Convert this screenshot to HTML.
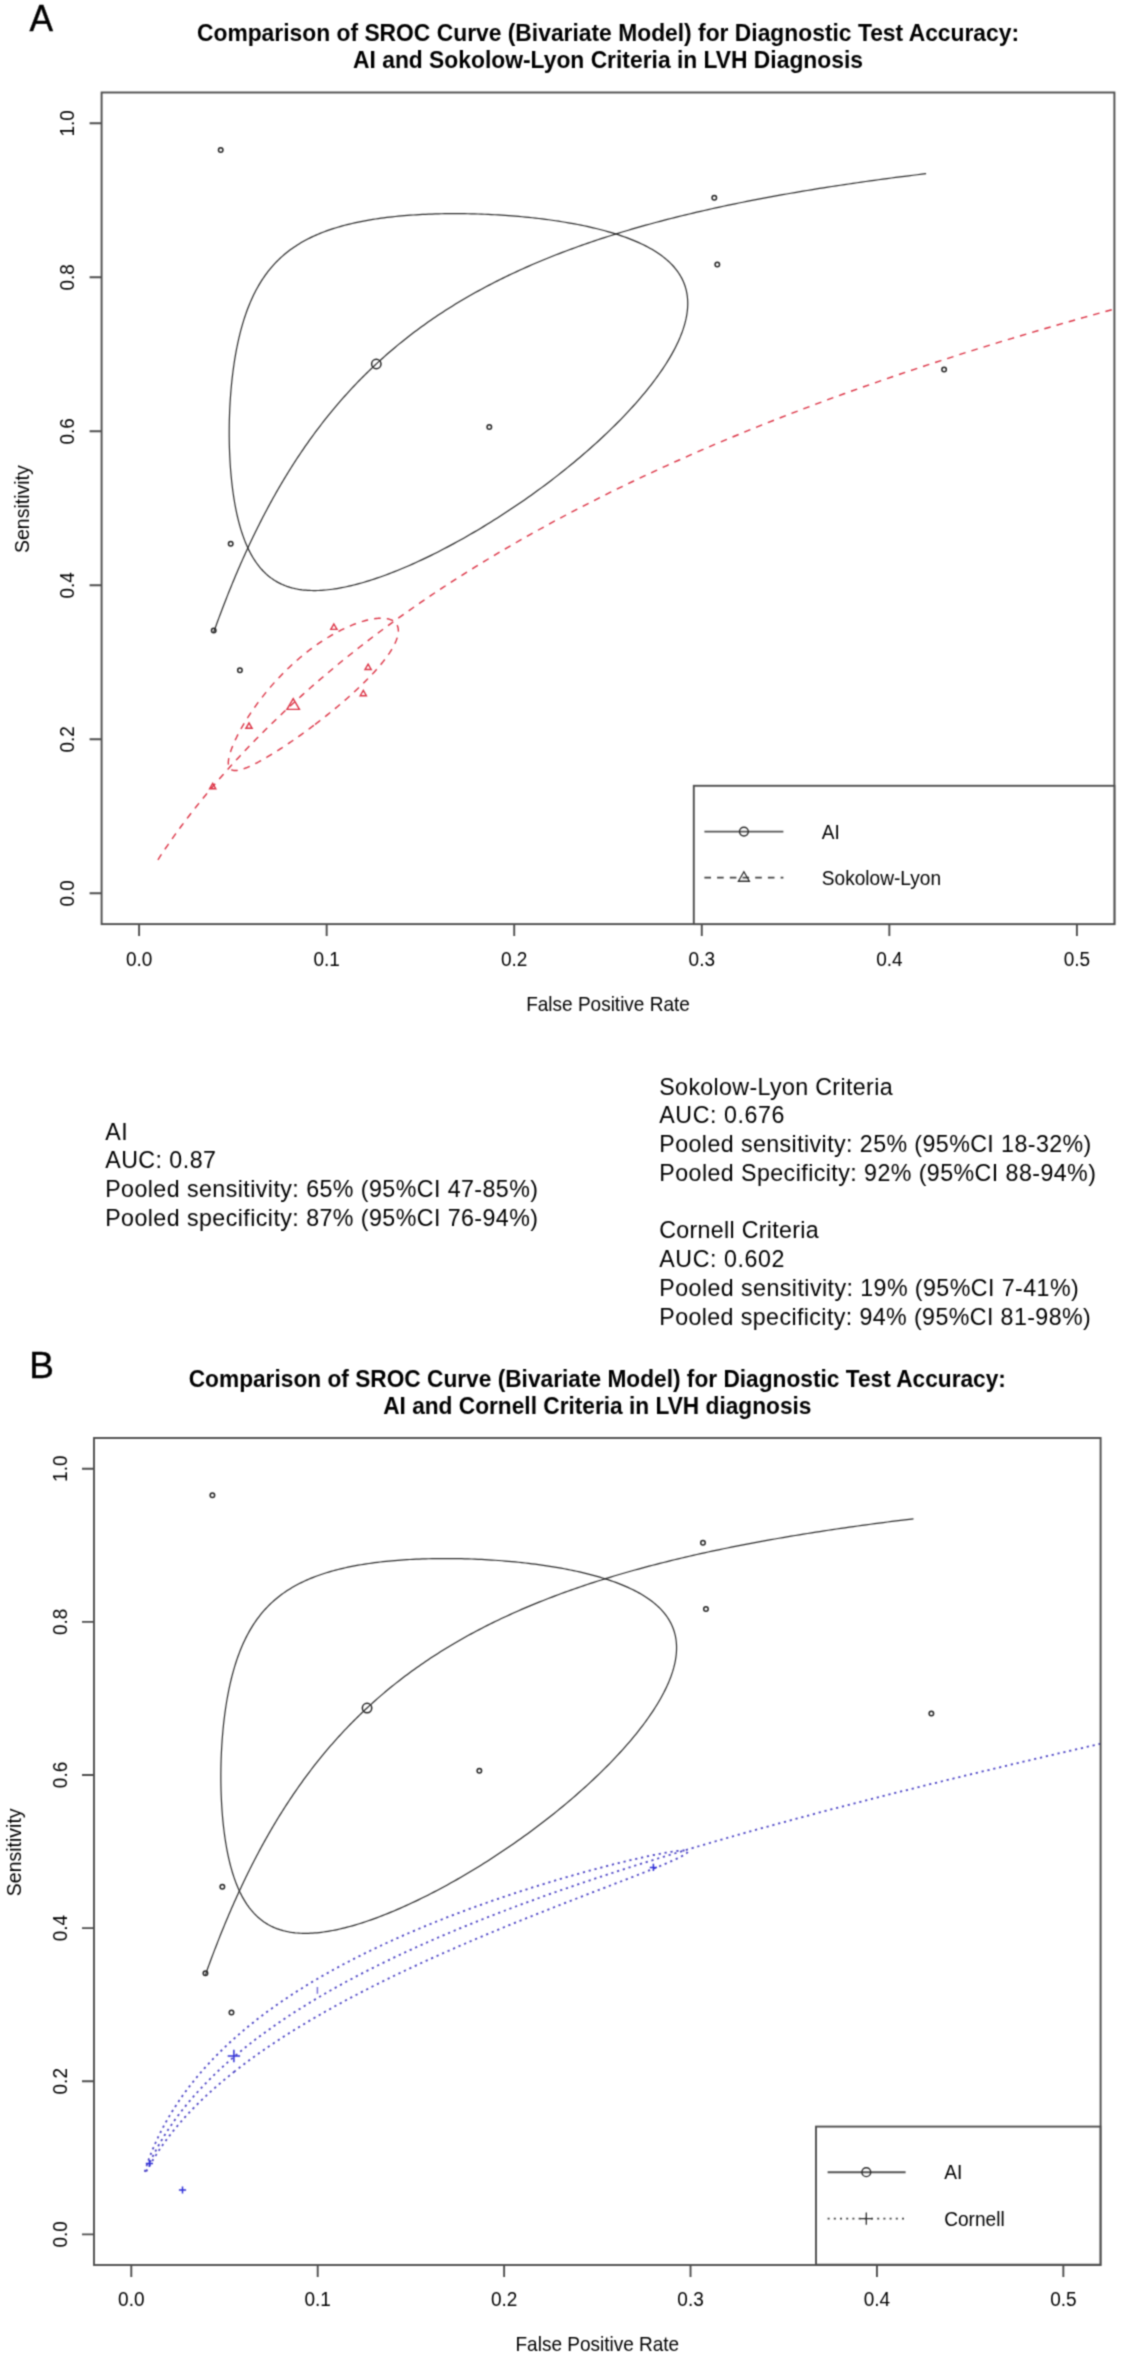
<!DOCTYPE html>
<html><head><meta charset="utf-8"><title>SROC comparison</title>
<style>html,body{margin:0;padding:0;background:#fff;}svg{display:block;}</style></head>
<body><svg width="1122" height="2360" viewBox="0 0 1122 2360" font-family="'Liberation Sans', Arial, Helvetica, sans-serif">
<defs><filter id="soft" color-interpolation-filters="sRGB" x="0" y="0" width="1122" height="2360" filterUnits="userSpaceOnUse"><feConvolveMatrix order="3" kernelMatrix="0.04 0.12 0.04 0.12 0.36 0.12 0.04 0.12 0.04" edgeMode="duplicate"/></filter></defs>
<rect width="1122" height="2360" fill="#fff"/>
<g filter="url(#soft)">
<rect width="1122" height="2360" fill="#fff"/>
<text transform="translate(29.5,30.7) scale(0.955,1)" font-size="37" fill="#000" stroke="#000" stroke-width="0.4">A</text>
<text transform="translate(608,41.0) scale(1,1.055)" text-anchor="middle" font-weight="bold" font-size="22.85" fill="#000">Comparison of SROC Curve (Bivariate Model) for Diagnostic Test Accuracy:</text>
<text transform="translate(608,68.2) scale(1,1.055)" text-anchor="middle" font-weight="bold" font-size="22.85" fill="#000">AI and Sokolow-Lyon Criteria in LVH Diagnosis</text>
<clipPath id="cA"><rect x="101.6" y="92.5" width="1012.8000000000001" height="831.6"/></clipPath>
<g clip-path="url(#cA)"><path d="M213.69,632.22 L214.38,630.29 L215.07,628.36 L215.78,626.43 L216.48,624.48 L217.19,622.53 L217.91,620.58 L218.64,618.61 L219.37,616.64 L220.11,614.67 L220.85,612.69 L221.6,610.7 L222.36,608.71 L223.13,606.71 L223.9,604.7 L224.67,602.69 L225.46,600.68 L226.25,598.66 L227.05,596.63 L227.85,594.6 L228.67,592.56 L229.49,590.52 L230.31,588.47 L231.14,586.42 L231.99,584.37 L232.83,582.31 L233.69,580.24 L234.55,578.17 L235.42,576.1 L236.3,574.02 L237.18,571.94 L238.08,569.86 L238.98,567.77 L239.89,565.67 L240.8,563.58 L241.73,561.48 L242.66,559.38 L243.6,557.27 L244.55,555.16 L245.5,553.05 L246.47,550.94 L247.44,548.82 L248.42,546.7 L249.41,544.58 L250.4,542.46 L251.41,540.33 L252.42,538.2 L253.45,536.07 L254.48,533.94 L255.52,531.81 L256.57,529.67 L257.62,527.54 L258.69,525.4 L259.77,523.26 L260.85,521.12 L261.94,518.98 L263.05,516.84 L264.16,514.7 L265.28,512.56 L266.41,510.42 L267.55,508.28 L268.7,506.14 L269.86,503.99 L271.02,501.85 L272.2,499.71 L273.39,497.57 L274.59,495.43 L275.79,493.29 L277.01,491.16 L278.24,489.02 L279.47,486.88 L280.72,484.75 L281.98,482.62 L283.25,480.48 L284.52,478.35 L285.81,476.23 L287.11,474.1 L288.42,471.98 L289.74,469.86 L291.07,467.74 L292.41,465.62 L293.76,463.51 L295.13,461.39 L296.5,459.29 L297.88,457.18 L299.28,455.08 L300.69,452.98 L302.1,450.88 L303.53,448.79 L304.97,446.7 L306.43,444.62 L307.89,442.54 L309.36,440.46 L310.85,438.38 L312.35,436.32 L313.86,434.25 L315.38,432.19 L316.91,430.13 L318.46,428.08 L320.02,426.04 L321.59,424 L323.17,421.96 L324.76,419.93 L326.37,417.9 L327.98,415.88 L329.62,413.87 L331.26,411.85 L332.91,409.85 L334.58,407.85 L336.26,405.86 L337.96,403.87 L339.66,401.89 L341.38,399.92 L343.12,397.95 L344.86,395.98 L346.62,394.03 L348.39,392.08 L350.18,390.13 L351.98,388.2 L353.79,386.27 L355.61,384.34 L357.45,382.43 L359.3,380.52 L361.17,378.62 L363.05,376.72 L364.94,374.83 L366.85,372.95 L368.77,371.08 L370.7,369.21 L372.65,367.36 L374.61,365.5 L376.59,363.66 L378.58,361.83 L380.59,360 L382.61,358.18 L384.64,356.37 L386.69,354.56 L388.75,352.76 L390.83,350.98 L392.92,349.2 L395.03,347.42 L397.15,345.66 L399.28,343.91 L401.43,342.16 L403.6,340.42 L405.78,338.69 L407.97,336.97 L410.18,335.25 L412.41,333.55 L414.65,331.85 L416.91,330.17 L419.18,328.49 L421.46,326.82 L423.77,325.16 L426.08,323.5 L428.41,321.86 L430.76,320.22 L433.13,318.6 L435.51,316.98 L437.9,315.37 L440.31,313.77 L442.74,312.18 L445.18,310.6 L447.64,309.03 L450.11,307.46 L452.6,305.91 L455.1,304.36 L457.62,302.83 L460.16,301.3 L462.71,299.78 L465.28,298.27 L467.87,296.77 L470.47,295.28 L473.09,293.8 L475.72,292.33 L478.37,290.87 L481.04,289.41 L483.72,287.97 L486.42,286.53 L489.13,285.11 L491.86,283.69 L494.61,282.28 L497.37,280.88 L500.15,279.49 L502.95,278.11 L505.76,276.74 L508.59,275.38 L511.44,274.02 L514.3,272.68 L517.18,271.34 L520.08,270.02 L522.99,268.7 L525.92,267.39 L528.86,266.1 L531.82,264.81 L534.8,263.53 L537.79,262.25 L540.8,260.99 L543.83,259.74 L546.88,258.49 L549.94,257.26 L553.01,256.03 L556.11,254.81 L559.22,253.6 L562.34,252.4 L565.49,251.21 L568.64,250.03 L571.82,248.86 L575.01,247.69 L578.22,246.54 L581.44,245.39 L584.69,244.25 L587.94,243.12 L591.22,242 L594.51,240.89 L597.81,239.78 L601.13,238.69 L604.47,237.6 L607.83,236.52 L611.2,235.45 L614.59,234.39 L617.99,233.34 L621.41,232.29 L624.84,231.25 L628.29,230.22 L631.76,229.2 L635.24,228.19 L638.74,227.19 L642.25,226.19 L645.78,225.2 L649.32,224.22 L652.88,223.25 L656.46,222.29 L660.05,221.33 L663.66,220.39 L667.28,219.45 L670.92,218.51 L674.57,217.59 L678.23,216.67 L681.92,215.76 L685.61,214.86 L689.32,213.97 L693.05,213.08 L696.79,212.2 L700.54,211.33 L704.31,210.47 L708.1,209.61 L711.9,208.76 L715.71,207.92 L719.53,207.09 L723.37,206.26 L727.23,205.44 L731.1,204.63 L734.98,203.82 L738.87,203.02 L742.78,202.23 L746.7,201.45 L750.64,200.67 L754.59,199.9 L758.55,199.13 L762.52,198.38 L766.51,197.63 L770.51,196.88 L774.52,196.14 L778.55,195.41 L782.58,194.69 L786.63,193.97 L790.69,193.26 L794.77,192.56 L798.85,191.86 L802.95,191.17 L807.05,190.48 L811.17,189.8 L815.3,189.13 L819.44,188.46 L823.6,187.8 L827.76,187.15 L831.93,186.5 L836.12,185.86 L840.31,185.22 L844.51,184.59 L848.73,183.97 L852.95,183.35 L857.19,182.73 L861.43,182.13 L865.68,181.53 L869.94,180.93 L874.21,180.34 L878.49,179.75 L882.78,179.17 L887.08,178.6 L891.38,178.03 L895.7,177.47 L900.02,176.91 L904.35,176.36 L908.68,175.81 L913.03,175.27 L917.38,174.73 L921.74,174.2 L926.1,173.68" fill="none" stroke="#2d2d2d" stroke-width="1.2"/><path d="M255.83,290.57 L256.82,288.73 L257.83,286.92 L258.86,285.13 L259.91,283.36 L260.98,281.62 L262.07,279.91 L263.19,278.22 L264.33,276.55 L265.49,274.91 L266.68,273.3 L267.89,271.71 L269.12,270.14 L270.38,268.6 L271.66,267.09 L272.96,265.6 L274.29,264.13 L275.65,262.69 L277.03,261.27 L278.43,259.88 L279.86,258.51 L281.31,257.17 L282.79,255.85 L284.3,254.55 L285.83,253.28 L287.39,252.03 L288.97,250.8 L290.58,249.6 L292.22,248.42 L293.89,247.26 L295.58,246.13 L297.3,245.02 L299.05,243.93 L300.82,242.86 L302.63,241.81 L304.46,240.79 L306.32,239.79 L308.2,238.81 L310.12,237.85 L312.07,236.91 L314.04,236 L316.04,235.1 L318.07,234.23 L320.13,233.37 L322.22,232.54 L324.34,231.73 L326.49,230.93 L328.66,230.16 L330.87,229.4 L333.11,228.67 L335.37,227.95 L337.66,227.26 L339.99,226.58 L342.34,225.92 L344.72,225.28 L347.13,224.66 L349.57,224.06 L352.04,223.47 L354.54,222.91 L357.06,222.36 L359.62,221.83 L362.2,221.31 L364.81,220.82 L367.45,220.34 L370.12,219.88 L372.82,219.44 L375.54,219.01 L378.29,218.6 L381.06,218.21 L383.87,217.83 L386.7,217.47 L389.55,217.13 L392.43,216.81 L395.34,216.5 L398.27,216.2 L401.22,215.93 L404.2,215.67 L407.21,215.42 L410.23,215.19 L413.28,214.98 L416.35,214.78 L419.44,214.6 L422.55,214.44 L425.69,214.29 L428.84,214.15 L432.01,214.04 L435.2,213.93 L438.41,213.85 L441.63,213.77 L444.87,213.72 L448.13,213.68 L451.4,213.65 L454.69,213.64 L457.99,213.65 L461.3,213.67 L464.62,213.71 L467.96,213.76 L471.3,213.83 L474.65,213.91 L478.02,214.01 L481.39,214.13 L484.76,214.26 L488.14,214.4 L491.53,214.57 L494.92,214.74 L498.31,214.94 L501.71,215.15 L505.1,215.37 L508.5,215.61 L511.89,215.87 L515.28,216.14 L518.67,216.43 L522.05,216.74 L525.43,217.06 L528.8,217.4 L532.16,217.76 L535.51,218.13 L538.86,218.52 L542.19,218.92 L545.51,219.34 L548.82,219.78 L552.11,220.24 L555.39,220.72 L558.65,221.21 L561.9,221.72 L565.12,222.24 L568.33,222.79 L571.51,223.35 L574.67,223.93 L577.81,224.53 L580.92,225.15 L584.01,225.78 L587.07,226.44 L590.11,227.11 L593.11,227.8 L596.09,228.51 L599.03,229.24 L601.95,229.99 L604.83,230.76 L607.67,231.55 L610.48,232.36 L613.25,233.19 L615.99,234.04 L618.69,234.91 L621.35,235.81 L623.97,236.72 L626.55,237.65 L629.08,238.6 L631.57,239.58 L634.02,240.58 L636.43,241.6 L638.79,242.64 L641.1,243.7 L643.36,244.78 L645.58,245.89 L647.74,247.02 L649.86,248.17 L651.93,249.35 L653.94,250.54 L655.9,251.77 L657.81,253.01 L659.67,254.28 L661.47,255.57 L663.21,256.89 L664.91,258.22 L666.54,259.59 L668.12,260.97 L669.64,262.39 L671.1,263.82 L672.5,265.28 L673.84,266.77 L675.13,268.28 L676.35,269.81 L677.52,271.37 L678.62,272.96 L679.66,274.57 L680.64,276.2 L681.56,277.86 L682.41,279.54 L683.21,281.25 L683.94,282.99 L684.6,284.75 L685.2,286.53 L685.74,288.34 L686.22,290.18 L686.63,292.04 L686.97,293.92 L687.26,295.83 L687.47,297.77 L687.62,299.73 L687.71,301.71 L687.74,303.72 L687.69,305.75 L687.59,307.81 L687.42,309.89 L687.18,311.99 L686.88,314.12 L686.52,316.27 L686.09,318.45 L685.6,320.64 L685.04,322.86 L684.42,325.1 L683.73,327.37 L682.99,329.65 L682.18,331.96 L681.3,334.29 L680.37,336.64 L679.37,339.01 L678.31,341.39 L677.19,343.8 L676.01,346.23 L674.77,348.67 L673.47,351.14 L672.11,353.62 L670.69,356.11 L669.21,358.63 L667.67,361.16 L666.08,363.7 L664.43,366.26 L662.72,368.84 L660.96,371.42 L659.15,374.02 L657.28,376.64 L655.35,379.26 L653.37,381.9 L651.34,384.54 L649.26,387.2 L647.13,389.86 L644.95,392.53 L642.72,395.21 L640.45,397.9 L638.12,400.59 L635.75,403.29 L633.33,405.99 L630.87,408.7 L628.37,411.41 L625.82,414.12 L623.23,416.84 L620.6,419.55 L617.93,422.26 L615.22,424.98 L612.47,427.69 L609.69,430.4 L606.87,433.11 L604.01,435.81 L601.12,438.51 L598.2,441.2 L595.25,443.89 L592.26,446.57 L589.25,449.24 L586.21,451.9 L583.14,454.55 L580.04,457.2 L576.92,459.83 L573.78,462.45 L570.61,465.06 L567.42,467.65 L564.21,470.24 L560.98,472.8 L557.73,475.35 L554.46,477.89 L551.18,480.41 L547.88,482.91 L544.57,485.4 L541.25,487.86 L537.91,490.31 L534.56,492.74 L531.21,495.14 L527.84,497.53 L524.47,499.89 L521.09,502.23 L517.7,504.55 L514.32,506.85 L510.92,509.12 L507.53,511.36 L504.14,513.59 L500.74,515.78 L497.35,517.96 L493.96,520.1 L490.57,522.22 L487.18,524.31 L483.8,526.37 L480.43,528.41 L477.06,530.41 L473.7,532.39 L470.35,534.34 L467.01,536.26 L463.68,538.15 L460.36,540.01 L457.05,541.84 L453.75,543.64 L450.47,545.4 L447.2,547.14 L443.95,548.84 L440.71,550.52 L437.49,552.16 L434.29,553.77 L431.11,555.34 L427.94,556.88 L424.79,558.39 L421.67,559.87 L418.56,561.31 L415.48,562.72 L412.41,564.1 L409.37,565.44 L406.35,566.75 L403.36,568.02 L400.38,569.26 L397.43,570.47 L394.51,571.64 L391.61,572.78 L388.74,573.88 L385.89,574.95 L383.07,575.98 L380.27,576.98 L377.5,577.94 L374.76,578.87 L372.05,579.76 L369.36,580.62 L366.7,581.44 L364.07,582.22 L361.47,582.98 L358.89,583.69 L356.34,584.37 L353.83,585.02 L351.34,585.63 L348.88,586.2 L346.44,586.74 L344.04,587.24 L341.67,587.71 L339.32,588.14 L337.01,588.54 L334.72,588.9 L332.47,589.22 L330.24,589.51 L328.04,589.77 L325.87,589.99 L323.74,590.17 L321.63,590.31 L319.54,590.43 L317.49,590.5 L315.47,590.54 L313.48,590.54 L311.51,590.51 L309.57,590.44 L307.67,590.34 L305.79,590.2 L303.93,590.03 L302.11,589.82 L300.32,589.57 L298.55,589.29 L296.81,588.97 L295.1,588.62 L293.41,588.23 L291.75,587.81 L290.12,587.35 L288.52,586.85 L286.94,586.32 L285.39,585.75 L283.87,585.15 L282.37,584.51 L280.9,583.84 L279.45,583.13 L278.03,582.39 L276.63,581.61 L275.26,580.79 L273.91,579.94 L272.59,579.06 L271.29,578.14 L270.02,577.18 L268.77,576.19 L267.54,575.17 L266.34,574.11 L265.16,573.01 L264.01,571.88 L262.87,570.72 L261.76,569.52 L260.67,568.29 L259.61,567.02 L258.56,565.72 L257.54,564.39 L256.54,563.02 L255.56,561.62 L254.6,560.18 L253.66,558.71 L252.74,557.21 L251.84,555.67 L250.97,554.1 L250.11,552.5 L249.27,550.87 L248.45,549.2 L247.66,547.51 L246.88,545.78 L246.12,544.02 L245.38,542.23 L244.65,540.4 L243.95,538.55 L243.27,536.67 L242.6,534.75 L241.95,532.81 L241.32,530.84 L240.7,528.84 L240.11,526.81 L239.53,524.75 L238.97,522.67 L238.42,520.55 L237.89,518.41 L237.38,516.25 L236.89,514.06 L236.41,511.84 L235.95,509.6 L235.5,507.33 L235.07,505.04 L234.66,502.73 L234.26,500.39 L233.88,498.03 L233.51,495.65 L233.16,493.25 L232.83,490.83 L232.51,488.39 L232.2,485.92 L231.91,483.44 L231.64,480.94 L231.38,478.43 L231.13,475.9 L230.91,473.35 L230.69,470.78 L230.49,468.2 L230.3,465.61 L230.13,463.01 L229.98,460.39 L229.84,457.76 L229.71,455.12 L229.6,452.47 L229.5,449.8 L229.41,447.14 L229.34,444.46 L229.29,441.77 L229.25,439.08 L229.22,436.38 L229.21,433.68 L229.21,430.98 L229.23,428.27 L229.26,425.56 L229.3,422.84 L229.36,420.13 L229.44,417.41 L229.52,414.7 L229.63,411.99 L229.74,409.28 L229.87,406.57 L230.02,403.87 L230.18,401.17 L230.36,398.47 L230.55,395.79 L230.75,393.1 L230.97,390.43 L231.2,387.76 L231.45,385.11 L231.71,382.46 L231.99,379.82 L232.29,377.19 L232.6,374.58 L232.92,371.98 L233.26,369.39 L233.62,366.81 L233.99,364.25 L234.37,361.7 L234.77,359.17 L235.19,356.65 L235.63,354.15 L236.08,351.66 L236.54,349.2 L237.03,346.75 L237.53,344.32 L238.04,341.91 L238.57,339.51 L239.12,337.14 L239.69,334.79 L240.27,332.46 L240.88,330.14 L241.49,327.85 L242.13,325.59 L242.79,323.34 L243.46,321.11 L244.15,318.91 L244.86,316.73 L245.59,314.58 L246.33,312.44 L247.1,310.33 L247.88,308.25 L248.68,306.19 L249.51,304.15 L250.35,302.13 L251.21,300.15 L252.1,298.18 L253,296.24 L253.92,294.33 L254.87,292.44 L255.83,290.57Z" fill="none" stroke="#2d2d2d" stroke-width="1.2"/><path d="M157.86,859.96 L158.44,859.06 L159.03,858.13 L159.65,857.18 L160.28,856.21 L160.94,855.22 L161.61,854.19 L162.3,853.15 L163.02,852.07 L163.75,850.97 L164.51,849.84 L165.3,848.68 L166.1,847.5 L166.93,846.28 L167.79,845.03 L168.67,843.76 L169.58,842.45 L170.51,841.11 L171.48,839.73 L172.47,838.33 L173.49,836.89 L174.54,835.41 L175.63,833.9 L176.75,832.35 L177.9,830.77 L179.08,829.15 L180.3,827.49 L181.56,825.79 L182.85,824.05 L184.19,822.28 L185.56,820.46 L186.97,818.6 L188.43,816.7 L189.93,814.75 L191.47,812.76 L193.06,810.73 L194.69,808.65 L196.37,806.53 L198.1,804.36 L199.89,802.14 L201.72,799.87 L203.61,797.56 L205.55,795.2 L207.55,792.79 L209.6,790.32 L211.72,787.81 L213.9,785.25 L216.13,782.63 L218.44,779.96 L220.81,777.24 L223.24,774.46 L225.75,771.63 L228.32,768.75 L230.97,765.81 L233.69,762.82 L236.49,759.77 L239.37,756.66 L242.33,753.5 L245.37,750.28 L248.49,747 L251.7,743.67 L255,740.28 L258.39,736.83 L261.87,733.33 L265.44,729.76 L269.11,726.14 L272.88,722.47 L276.75,718.73 L280.72,714.94 L284.8,711.09 L288.98,707.18 L293.27,703.22 L297.68,699.19 L302.2,695.12 L306.84,690.99 L311.59,686.8 L316.46,682.56 L321.46,678.26 L326.59,673.92 L331.84,669.51 L337.22,665.06 L342.73,660.56 L348.38,656.01 L354.16,651.4 L360.08,646.75 L366.14,642.06 L372.35,637.31 L378.7,632.53 L385.2,627.7 L391.84,622.82 L398.64,617.91 L405.59,612.96 L412.7,607.97 L419.96,602.94 L427.38,597.88 L434.96,592.79 L442.7,587.66 L450.6,582.51 L458.67,577.33 L466.9,572.12 L475.29,566.89 L483.86,561.63 L492.59,556.36 L501.49,551.06 L510.57,545.75 L519.81,540.43 L529.22,535.09 L538.8,529.75 L548.55,524.39 L558.48,519.03 L568.57,513.66 L578.83,508.3 L589.26,502.93 L599.86,497.56 L610.63,492.2 L621.56,486.85 L632.66,481.5 L643.92,476.16 L655.34,470.84 L666.92,465.53 L678.65,460.24 L690.54,454.96 L702.58,449.71 L714.77,444.47 L727.11,439.27 L739.59,434.08 L752.2,428.93 L764.96,423.81 L777.84,418.71 L790.85,413.65 L803.98,408.63 L817.23,403.64 L830.59,398.68 L844.06,393.77 L857.64,388.9 L871.31,384.07 L885.08,379.28 L898.93,374.54 L912.86,369.84 L926.87,365.19 L940.95,360.59 L955.09,356.03 L969.28,351.53 L983.53,347.08 L997.82,342.68 L1012.15,338.33 L1026.51,334.04 L1040.89,329.79 L1055.29,325.61 L1069.69,321.48 L1084.11,317.4 L1098.51,313.38 L1112.91,309.42 L1127.29,305.51 L1141.65,301.66 L1155.98,297.87 L1170.27,294.13 L1184.52,290.45 L1198.71,286.83 L1212.85,283.27 L1226.93,279.76 L1240.94,276.32 L1254.87,272.93 L1268.72,269.59 L1282.49,266.32 L1296.16,263.1 L1309.74,259.93 L1323.21,256.83 L1336.57,253.78 L1349.82,250.78 L1362.95,247.85 L1375.96,244.96 L1388.84,242.13 L1401.6,239.36 L1414.21,236.64 L1426.69,233.97 L1439.03,231.35 L1451.22,228.79 L1463.26,226.27 L1475.15,223.81 L1486.88,221.4 L1498.46,219.04 L1509.88,216.72 L1521.14,214.46 L1532.24,212.24 L1543.17,210.07 L1553.94,207.95 L1564.54,205.87 L1574.97,203.84 L1585.23,201.85 L1595.32,199.9 L1605.25,198 L1615,196.14 L1624.58,194.32 L1633.99,192.54 L1643.23,190.81 L1652.31,189.11 L1661.21,187.45 L1669.94,185.83 L1678.51,184.24 L1686.9,182.7 L1695.13,181.19 L1703.2,179.71 L1711.1,178.27 L1718.84,176.86 L1726.42,175.49 L1733.84,174.15 L1741.1,172.84 L1748.21,171.57 L1755.16,170.32 L1761.96,169.1 L1768.6,167.92 L1775.1,166.76 L1781.45,165.63 L1787.66,164.53 L1793.72,163.45 L1799.64,162.4 L1805.42,161.38 L1811.07,160.39 L1816.58,159.41 L1821.96,158.47 L1827.21,157.54 L1832.34,156.64 L1837.34,155.76 L1842.21,154.91 L1846.96,154.07 L1851.6,153.26 L1856.12,152.47 L1860.53,151.69 L1864.82,150.94 L1869,150.21 L1873.08,149.49 L1877.05,148.8 L1880.92,148.12 L1884.69,147.46 L1888.36,146.81 L1891.93,146.19 L1895.41,145.57 L1898.8,144.98 L1902.1,144.4 L1905.31,143.83 L1908.43,143.28 L1911.47,142.75 L1914.43,142.23 L1917.31,141.72 L1920.11,141.22 L1922.83,140.74 L1925.48,140.27 L1928.05,139.82 L1930.56,139.37 L1932.99,138.94 L1935.36,138.52 L1937.67,138.11 L1939.9,137.71 L1942.08,137.32 L1944.2,136.94 L1946.25,136.57 L1948.25,136.21 L1950.19,135.86 L1952.08,135.52 L1953.91,135.19 L1955.7,134.87 L1957.43,134.56 L1959.11,134.25 L1960.74,133.95 L1962.33,133.66 L1963.87,133.38 L1965.37,133.11 L1966.83,132.84 L1968.24,132.58 L1969.61,132.33 L1970.95,132.09 L1972.24,131.85 L1973.5,131.61 L1974.72,131.39 L1975.9,131.17 L1977.05,130.95 L1978.17,130.75 L1979.26,130.54 L1980.31,130.35 L1981.33,130.15 L1982.32,129.97 L1983.29,129.78 L1984.22,129.61 L1985.13,129.44 L1986.01,129.27 L1986.87,129.11 L1987.7,128.95 L1988.5,128.79 L1989.29,128.64 L1990.05,128.5 L1990.78,128.35 L1991.5,128.22 L1992.19,128.08 L1992.86,127.95 L1993.52,127.82 L1994.15,127.7 L1994.77,127.58 L1995.36,127.46 L1995.94,127.35" fill="none" stroke="#dc3446" stroke-width="1.4" stroke-dasharray="6.6 6.1"/><path d="M313.86,725.33 L312.73,726.18 L311.6,727.02 L310.48,727.86 L309.36,728.69 L308.25,729.51 L307.14,730.33 L306.03,731.14 L304.93,731.94 L303.83,732.74 L302.74,733.53 L301.65,734.31 L300.57,735.09 L299.49,735.85 L298.42,736.61 L297.35,737.37 L296.29,738.11 L295.24,738.85 L294.19,739.58 L293.15,740.3 L292.11,741.02 L291.09,741.72 L290.06,742.42 L289.05,743.11 L288.04,743.79 L287.04,744.47 L286.04,745.13 L285.06,745.79 L284.08,746.44 L283.1,747.09 L282.14,747.72 L281.18,748.34 L280.23,748.96 L279.29,749.57 L278.36,750.17 L277.43,750.76 L276.51,751.35 L275.6,751.92 L274.7,752.49 L273.81,753.05 L272.92,753.6 L272.04,754.14 L271.18,754.67 L270.32,755.19 L269.47,755.71 L268.62,756.21 L267.79,756.71 L266.96,757.2 L266.15,757.68 L265.34,758.15 L264.54,758.62 L263.75,759.07 L262.97,759.51 L262.19,759.95 L261.43,760.38 L260.67,760.8 L259.93,761.21 L259.19,761.61 L258.46,762 L257.74,762.39 L257.03,762.76 L256.33,763.13 L255.64,763.49 L254.96,763.83 L254.28,764.17 L253.62,764.5 L252.96,764.83 L252.31,765.14 L251.67,765.44 L251.05,765.74 L250.43,766.03 L249.81,766.31 L249.21,766.57 L248.62,766.83 L248.03,767.09 L247.46,767.33 L246.89,767.56 L246.33,767.79 L245.79,768 L245.25,768.21 L244.72,768.41 L244.19,768.6 L243.68,768.78 L243.18,768.95 L242.68,769.12 L242.19,769.27 L241.72,769.42 L241.25,769.55 L240.79,769.68 L240.34,769.8 L239.89,769.91 L239.46,770.01 L239.03,770.11 L238.62,770.19 L238.21,770.26 L237.81,770.33 L237.42,770.39 L237.04,770.44 L236.66,770.48 L236.3,770.51 L235.94,770.53 L235.59,770.54 L235.25,770.55 L234.92,770.55 L234.59,770.53 L234.28,770.51 L233.97,770.48 L233.67,770.44 L233.38,770.39 L233.1,770.34 L232.83,770.27 L232.56,770.2 L232.31,770.11 L232.06,770.02 L231.82,769.92 L231.59,769.81 L231.36,769.69 L231.14,769.57 L230.94,769.43 L230.74,769.29 L230.54,769.13 L230.36,768.97 L230.18,768.8 L230.02,768.62 L229.86,768.43 L229.7,768.23 L229.56,768.02 L229.43,767.81 L229.3,767.59 L229.18,767.35 L229.07,767.11 L228.96,766.86 L228.86,766.6 L228.78,766.33 L228.7,766.05 L228.62,765.77 L228.56,765.47 L228.5,765.17 L228.45,764.86 L228.41,764.54 L228.38,764.21 L228.35,763.87 L228.34,763.52 L228.33,763.16 L228.33,762.8 L228.33,762.42 L228.35,762.04 L228.37,761.65 L228.4,761.25 L228.44,760.84 L228.48,760.42 L228.53,759.99 L228.6,759.56 L228.66,759.11 L228.74,758.66 L228.83,758.2 L228.92,757.73 L229.02,757.25 L229.13,756.76 L229.25,756.26 L229.37,755.76 L229.5,755.24 L229.64,754.72 L229.79,754.19 L229.95,753.65 L230.11,753.1 L230.28,752.54 L230.47,751.98 L230.65,751.4 L230.85,750.82 L231.06,750.23 L231.27,749.63 L231.49,749.02 L231.72,748.41 L231.96,747.78 L232.2,747.15 L232.45,746.51 L232.72,745.86 L232.99,745.2 L233.26,744.53 L233.55,743.86 L233.85,743.18 L234.15,742.49 L234.46,741.79 L234.78,741.09 L235.11,740.37 L235.44,739.65 L235.79,738.92 L236.14,738.18 L236.51,737.44 L236.88,736.69 L237.25,735.93 L237.64,735.16 L238.04,734.39 L238.44,733.61 L238.86,732.82 L239.28,732.02 L239.71,731.22 L240.15,730.41 L240.6,729.6 L241.05,728.77 L241.52,727.94 L241.99,727.11 L242.47,726.26 L242.97,725.41 L243.47,724.56 L243.98,723.7 L244.49,722.83 L245.02,721.96 L245.56,721.08 L246.1,720.19 L246.65,719.3 L247.22,718.4 L247.79,717.5 L248.37,716.59 L248.96,715.68 L249.56,714.76 L250.16,713.84 L250.78,712.91 L251.41,711.98 L252.04,711.05 L252.68,710.11 L253.34,709.16 L254,708.21 L254.67,707.26 L255.35,706.3 L256.04,705.34 L256.73,704.38 L257.44,703.41 L258.16,702.44 L258.88,701.47 L259.61,700.5 L260.36,699.52 L261.11,698.54 L261.87,697.55 L262.64,696.57 L263.42,695.58 L264.2,694.59 L265,693.6 L265.8,692.61 L266.61,691.62 L267.44,690.62 L268.27,689.63 L269.11,688.63 L269.95,687.63 L270.81,686.64 L271.68,685.64 L272.55,684.64 L273.43,683.65 L274.32,682.65 L275.22,681.66 L276.12,680.66 L277.04,679.67 L277.96,678.68 L278.89,677.68 L279.83,676.7 L280.78,675.71 L281.73,674.72 L282.69,673.74 L283.66,672.76 L284.64,671.78 L285.62,670.81 L286.61,669.84 L287.61,668.87 L288.62,667.9 L289.63,666.94 L290.65,665.98 L291.68,665.03 L292.71,664.08 L293.75,663.14 L294.79,662.2 L295.85,661.26 L296.9,660.34 L297.97,659.41 L299.04,658.49 L300.11,657.58 L301.19,656.67 L302.28,655.77 L303.37,654.88 L304.46,653.99 L305.56,653.11 L306.67,652.24 L307.78,651.37 L308.89,650.51 L310.01,649.66 L311.13,648.82 L312.25,647.98 L313.38,647.16 L314.51,646.34 L315.65,645.53 L316.78,644.72 L317.92,643.93 L319.06,643.15 L320.21,642.37 L321.35,641.61 L322.5,640.85 L323.65,640.11 L324.8,639.37 L325.95,638.65 L327.1,637.93 L328.26,637.23 L329.41,636.53 L330.56,635.85 L331.71,635.18 L332.86,634.52 L334.01,633.87 L335.16,633.23 L336.31,632.6 L337.45,631.99 L338.6,631.38 L339.74,630.79 L340.88,630.21 L342.01,629.65 L343.15,629.09 L344.28,628.55 L345.4,628.02 L346.52,627.5 L347.64,627 L348.75,626.51 L349.86,626.03 L350.96,625.57 L352.06,625.12 L353.15,624.68 L354.24,624.26 L355.32,623.85 L356.39,623.45 L357.45,623.07 L358.51,622.7 L359.56,622.34 L360.6,622 L361.64,621.68 L362.66,621.37 L363.68,621.07 L364.68,620.79 L365.68,620.52 L366.67,620.26 L367.65,620.02 L368.61,619.8 L369.57,619.59 L370.52,619.39 L371.45,619.21 L372.37,619.05 L373.28,618.9 L374.18,618.76 L375.07,618.64 L375.94,618.53 L376.8,618.44 L377.65,618.37 L378.48,618.3 L379.3,618.26 L380.11,618.23 L380.9,618.21 L381.68,618.21 L382.44,618.23 L383.19,618.26 L383.92,618.3 L384.63,618.36 L385.33,618.43 L386.02,618.52 L386.68,618.63 L387.34,618.75 L387.97,618.88 L388.59,619.03 L389.19,619.2 L389.77,619.37 L390.33,619.57 L390.88,619.78 L391.41,620 L391.92,620.24 L392.41,620.49 L392.89,620.76 L393.34,621.04 L393.78,621.34 L394.19,621.65 L394.59,621.97 L394.97,622.31 L395.33,622.66 L395.67,623.03 L395.99,623.41 L396.29,623.81 L396.57,624.22 L396.83,624.64 L397.07,625.07 L397.29,625.52 L397.49,625.99 L397.67,626.46 L397.83,626.95 L397.97,627.45 L398.08,627.97 L398.18,628.5 L398.26,629.04 L398.31,629.59 L398.35,630.16 L398.36,630.73 L398.36,631.32 L398.33,631.93 L398.28,632.54 L398.22,633.17 L398.13,633.8 L398.02,634.45 L397.89,635.11 L397.74,635.78 L397.57,636.46 L397.38,637.16 L397.17,637.86 L396.93,638.58 L396.68,639.3 L396.41,640.03 L396.12,640.78 L395.81,641.53 L395.48,642.3 L395.13,643.07 L394.76,643.85 L394.37,644.65 L393.96,645.45 L393.53,646.26 L393.08,647.08 L392.62,647.9 L392.13,648.74 L391.63,649.58 L391.11,650.43 L390.57,651.29 L390.01,652.15 L389.44,653.03 L388.84,653.91 L388.23,654.79 L387.61,655.69 L386.96,656.59 L386.3,657.49 L385.63,658.4 L384.93,659.32 L384.22,660.24 L383.5,661.17 L382.76,662.11 L382,663.05 L381.23,663.99 L380.45,664.94 L379.65,665.89 L378.83,666.85 L378.01,667.81 L377.16,668.77 L376.31,669.74 L375.44,670.71 L374.56,671.69 L373.67,672.66 L372.76,673.64 L371.84,674.63 L370.91,675.61 L369.97,676.6 L369.02,677.59 L368.06,678.58 L367.08,679.57 L366.1,680.56 L365.11,681.56 L364.1,682.55 L363.09,683.55 L362.07,684.54 L361.04,685.54 L360,686.54 L358.96,687.54 L357.9,688.53 L356.84,689.53 L355.77,690.52 L354.7,691.52 L353.61,692.51 L352.52,693.5 L351.43,694.49 L350.33,695.48 L349.22,696.47 L348.11,697.46 L347,698.44 L345.88,699.42 L344.75,700.4 L343.63,701.37 L342.49,702.35 L341.36,703.32 L340.22,704.29 L339.08,705.25 L337.94,706.21 L336.79,707.17 L335.65,708.12 L334.5,709.07 L333.35,710.01 L332.2,710.95 L331.05,711.89 L329.9,712.82 L328.74,713.75 L327.59,714.67 L326.44,715.59 L325.29,716.5 L324.14,717.41 L322.99,718.31 L321.84,719.21 L320.69,720.1 L319.55,720.99 L318.41,721.87 L317.27,722.74 L316.13,723.61 L314.99,724.47 L313.86,725.33Z" fill="none" stroke="#dc3446" stroke-width="1.4" stroke-dasharray="6.6 6.1"/><g fill="none" stroke="#dc3446" stroke-width="1.4"><path d="M333.9,624.02 L337,629.38 L330.8,629.38Z"/><path d="M368.1,664.12 L371.2,669.48 L365,669.48Z"/><path d="M363.3,690.32 L366.4,695.68 L360.2,695.68Z"/><path d="M249,722.92 L252.1,728.28 L245.9,728.28Z"/><path d="M212.7,783.32 L215.8,788.68 L209.6,788.68Z"/><path d="M293.2,698.59 L299.45,709.41 L286.95,709.41Z"/></g><g fill="none" stroke="#262626" stroke-width="1.5"><circle cx="220.7" cy="150.1" r="2.25"/><circle cx="714.3" cy="197.8" r="2.25"/><circle cx="717.3" cy="264.4" r="2.25"/><circle cx="489.3" cy="427.1" r="2.25"/><circle cx="944.1" cy="369.5" r="2.25"/><circle cx="230.7" cy="543.8" r="2.25"/><circle cx="213.7" cy="630.6" r="2.25"/><circle cx="239.9" cy="670.2" r="2.25"/><circle cx="376.3" cy="364" r="4.7"/></g></g>
<rect x="101.6" y="92.5" width="1012.8" height="831.6" fill="none" stroke="#4e4e4e" stroke-width="1.9"/>
<path d="M139.1,924.1 V936.1 M101.6,893.3 H89.6 M326.66,924.1 V936.1 M101.6,739.3 H89.6 M514.22,924.1 V936.1 M101.6,585.3 H89.6 M701.78,924.1 V936.1 M101.6,431.3 H89.6 M889.34,924.1 V936.1 M101.6,277.3 H89.6 M1076.9,924.1 V936.1 M101.6,123.3 H89.6" stroke="#4e4e4e" stroke-width="1.9" fill="none"/>
<g font-size="19" fill="#000"><text transform="translate(139.1,965.6) scale(1,1.05)" text-anchor="middle">0.0</text><text transform="translate(74.0,893.3) rotate(-90) scale(1,1.05)" text-anchor="middle">0.0</text><text transform="translate(326.66,965.6) scale(1,1.05)" text-anchor="middle">0.1</text><text transform="translate(74.0,739.3) rotate(-90) scale(1,1.05)" text-anchor="middle">0.2</text><text transform="translate(514.22,965.6) scale(1,1.05)" text-anchor="middle">0.2</text><text transform="translate(74.0,585.3) rotate(-90) scale(1,1.05)" text-anchor="middle">0.4</text><text transform="translate(701.78,965.6) scale(1,1.05)" text-anchor="middle">0.3</text><text transform="translate(74.0,431.3) rotate(-90) scale(1,1.05)" text-anchor="middle">0.6</text><text transform="translate(889.34,965.6) scale(1,1.05)" text-anchor="middle">0.4</text><text transform="translate(74.0,277.3) rotate(-90) scale(1,1.05)" text-anchor="middle">0.8</text><text transform="translate(1076.9,965.6) scale(1,1.05)" text-anchor="middle">0.5</text><text transform="translate(74.0,123.3) rotate(-90) scale(1,1.05)" text-anchor="middle">1.0</text><text transform="translate(608,1011.2) scale(1,1.05)" text-anchor="middle">False Positive Rate</text><text transform="translate(28.5,509.1) rotate(-90) scale(1,1.05)" text-anchor="middle" font-size="19.5">Sensitivity</text></g>
<rect x="693.8" y="785.8" width="420.6" height="138.3" fill="#fff" stroke="#4e4e4e" stroke-width="1.9"/>
<path d="M704.4,831.6 H783.4" stroke="#555" stroke-width="1.9"/>
<circle cx="743.9" cy="831.6" r="4.4" fill="none" stroke="#2d2d2d" stroke-width="1.4"/>
<path d="M704.4,877.7 H783.4" stroke="#444" stroke-width="1.7" stroke-dasharray="6.6 6.1"/>
<g fill="none" stroke="#2d2d2d" stroke-width="1.3"><path d="M743.9,871.74 L749.4,881.26 L738.4,881.26Z"/></g>
<g font-size="19.1" fill="#000"><text transform="translate(821.8,838.7) scale(1,1.05)">AI</text><text transform="translate(821.8,884.8) scale(1,1.05)">Sokolow-Lyon</text></g>
<g font-size="23.2" fill="#000"><text transform="translate(105.2,1139.7) scale(1,1.05)" textLength="22.62" lengthAdjust="spacing">AI</text><text transform="translate(105.2,1168.4) scale(1,1.05)" textLength="110.68" lengthAdjust="spacing">AUC: 0.87</text><text transform="translate(105.2,1197.1) scale(1,1.05)" textLength="432.80" lengthAdjust="spacing">Pooled sensitivity: 65% (95%CI 47-85%)</text><text transform="translate(105.2,1225.8) scale(1,1.05)" textLength="432.80" lengthAdjust="spacing">Pooled specificity: 87% (95%CI 76-94%)</text><text transform="translate(659.3,1094.7) scale(1,1.05)" textLength="233.25" lengthAdjust="spacing">Sokolow-Lyon Criteria</text><text transform="translate(659.3,1123.45) scale(1,1.05)" textLength="125.18" lengthAdjust="spacing">AUC: 0.676</text><text transform="translate(659.3,1152.2) scale(1,1.05)" textLength="432.00" lengthAdjust="spacing">Pooled sensitivity: 25% (95%CI 18-32%)</text><text transform="translate(659.3,1180.95) scale(1,1.05)" textLength="436.57" lengthAdjust="spacing">Pooled Specificity: 92% (95%CI 88-94%)</text><text transform="translate(659.3,1238.45) scale(1,1.05)" textLength="159.33" lengthAdjust="spacing">Cornell Criteria</text><text transform="translate(659.3,1267.2) scale(1,1.05)" textLength="125.18" lengthAdjust="spacing">AUC: 0.602</text><text transform="translate(659.3,1295.95) scale(1,1.05)" textLength="419.41" lengthAdjust="spacing">Pooled sensitivity: 19% (95%CI 7-41%)</text><text transform="translate(659.3,1324.7) scale(1,1.05)" textLength="431.40" lengthAdjust="spacing">Pooled specificity: 94% (95%CI 81-98%)</text></g>
<text transform="translate(29.3,1377.8) scale(1,1)" font-size="37" fill="#000" stroke="#000" stroke-width="0.4">B</text>
<text transform="translate(597.3,1387.2) scale(1,1.055)" text-anchor="middle" font-weight="bold" font-size="22.7" fill="#000">Comparison of SROC Curve (Bivariate Model) for Diagnostic Test Accuracy:</text>
<text transform="translate(597.3,1413.6) scale(1,1.055)" text-anchor="middle" font-weight="bold" font-size="22.7" fill="#000">AI and Cornell Criteria in LVH diagnosis</text>
<clipPath id="cB"><rect x="94" y="1438" width="1006.5999999999999" height="827"/></clipPath>
<g clip-path="url(#cB)"><path d="M205.44,1974.77 L206.12,1972.86 L206.81,1970.94 L207.5,1969.02 L208.21,1967.08 L208.92,1965.14 L209.63,1963.2 L210.35,1961.25 L211.08,1959.29 L211.81,1957.33 L212.55,1955.35 L213.3,1953.38 L214.05,1951.4 L214.81,1949.41 L215.58,1947.42 L216.35,1945.42 L217.13,1943.41 L217.92,1941.4 L218.71,1939.39 L219.51,1937.37 L220.32,1935.34 L221.13,1933.31 L221.95,1931.28 L222.78,1929.24 L223.62,1927.19 L224.46,1925.14 L225.31,1923.09 L226.17,1921.03 L227.03,1918.97 L227.9,1916.91 L228.78,1914.84 L229.67,1912.76 L230.57,1910.68 L231.47,1908.6 L232.38,1906.52 L233.3,1904.43 L234.22,1902.34 L235.16,1900.25 L236.1,1898.15 L237.05,1896.05 L238.01,1893.95 L238.97,1891.84 L239.95,1889.74 L240.93,1887.63 L241.92,1885.52 L242.92,1883.4 L243.93,1881.28 L244.95,1879.17 L245.97,1877.05 L247,1874.93 L248.05,1872.8 L249.1,1870.68 L250.16,1868.56 L251.23,1866.43 L252.3,1864.3 L253.39,1862.17 L254.49,1860.05 L255.59,1857.92 L256.7,1855.79 L257.83,1853.66 L258.96,1851.53 L260.1,1849.4 L261.25,1847.27 L262.41,1845.14 L263.59,1843.01 L264.77,1840.88 L265.96,1838.75 L267.16,1836.63 L268.36,1834.5 L269.58,1832.38 L270.81,1830.25 L272.05,1828.13 L273.3,1826.01 L274.56,1823.89 L275.83,1821.77 L277.11,1819.66 L278.4,1817.54 L279.7,1815.43 L281.02,1813.32 L282.34,1811.21 L283.67,1809.11 L285.01,1807.01 L286.37,1804.91 L287.73,1802.81 L289.11,1800.72 L290.5,1798.62 L291.9,1796.54 L293.3,1794.45 L294.73,1792.37 L296.16,1790.3 L297.6,1788.22 L299.05,1786.15 L300.52,1784.09 L302,1782.03 L303.49,1779.97 L304.99,1777.91 L306.5,1775.87 L308.02,1773.82 L309.56,1771.78 L311.11,1769.75 L312.67,1767.72 L314.24,1765.69 L315.82,1763.67 L317.42,1761.66 L319.03,1759.65 L320.65,1757.64 L322.28,1755.64 L323.93,1753.65 L325.58,1751.66 L327.26,1749.68 L328.94,1747.7 L330.63,1745.73 L332.34,1743.77 L334.07,1741.81 L335.8,1739.86 L337.55,1737.92 L339.31,1735.98 L341.08,1734.04 L342.87,1732.12 L344.67,1730.2 L346.48,1728.29 L348.31,1726.38 L350.15,1724.48 L352.01,1722.59 L353.87,1720.71 L355.76,1718.83 L357.65,1716.96 L359.56,1715.1 L361.48,1713.24 L363.42,1711.39 L365.37,1709.55 L367.33,1707.72 L369.31,1705.89 L371.31,1704.08 L373.31,1702.27 L375.33,1700.46 L377.37,1698.67 L379.42,1696.88 L381.48,1695.11 L383.56,1693.34 L385.66,1691.57 L387.76,1689.82 L389.89,1688.07 L392.02,1686.34 L394.18,1684.61 L396.34,1682.89 L398.53,1681.17 L400.72,1679.47 L402.93,1677.78 L405.16,1676.09 L407.4,1674.41 L409.66,1672.74 L411.93,1671.08 L414.22,1669.43 L416.52,1667.78 L418.84,1666.15 L421.17,1664.52 L423.52,1662.91 L425.89,1661.3 L428.27,1659.7 L430.66,1658.11 L433.07,1656.53 L435.5,1654.95 L437.94,1653.39 L440.4,1651.84 L442.88,1650.29 L445.37,1648.75 L447.87,1647.23 L450.39,1645.71 L452.93,1644.2 L455.48,1642.7 L458.05,1641.21 L460.64,1639.72 L463.24,1638.25 L465.86,1636.79 L468.49,1635.33 L471.14,1633.89 L473.81,1632.45 L476.49,1631.02 L479.19,1629.6 L481.9,1628.19 L484.63,1626.79 L487.38,1625.4 L490.14,1624.02 L492.92,1622.65 L495.72,1621.28 L498.53,1619.93 L501.36,1618.58 L504.2,1617.25 L507.06,1615.92 L509.94,1614.6 L512.83,1613.29 L515.74,1611.99 L518.67,1610.7 L521.61,1609.42 L524.57,1608.14 L527.55,1606.88 L530.54,1605.62 L533.55,1604.38 L536.58,1603.14 L539.62,1601.91 L542.68,1600.69 L545.75,1599.48 L548.84,1598.28 L551.95,1597.08 L555.07,1595.9 L558.21,1594.72 L561.37,1593.56 L564.54,1592.4 L567.73,1591.25 L570.93,1590.11 L574.15,1588.98 L577.39,1587.85 L580.64,1586.74 L583.91,1585.63 L587.2,1584.53 L590.5,1583.44 L593.82,1582.36 L597.15,1581.29 L600.5,1580.22 L603.87,1579.17 L607.25,1578.12 L610.65,1577.08 L614.06,1576.05 L617.49,1575.03 L620.94,1574.01 L624.4,1573.01 L627.87,1572.01 L631.37,1571.02 L634.87,1570.04 L638.4,1569.06 L641.93,1568.09 L645.49,1567.14 L649.06,1566.19 L652.64,1565.24 L656.24,1564.31 L659.85,1563.38 L663.48,1562.46 L667.13,1561.55 L670.79,1560.65 L674.46,1559.75 L678.15,1558.86 L681.85,1557.98 L685.57,1557.11 L689.3,1556.24 L693.05,1555.38 L696.81,1554.53 L700.58,1553.69 L704.37,1552.85 L708.18,1552.02 L711.99,1551.2 L715.82,1550.38 L719.67,1549.57 L723.52,1548.77 L727.4,1547.98 L731.28,1547.19 L735.18,1546.41 L739.09,1545.64 L743.01,1544.87 L746.95,1544.11 L750.9,1543.36 L754.86,1542.61 L758.84,1541.87 L762.83,1541.14 L766.83,1540.41 L770.84,1539.69 L774.86,1538.98 L778.9,1538.27 L782.95,1537.57 L787.01,1536.88 L791.08,1536.19 L795.16,1535.51 L799.25,1534.83 L803.36,1534.16 L807.47,1533.5 L811.6,1532.84 L815.74,1532.19 L819.88,1531.55 L824.04,1530.91 L828.21,1530.28 L832.39,1529.65 L836.58,1529.03 L840.78,1528.41 L844.98,1527.8 L849.2,1527.2 L853.43,1526.6 L857.66,1526.01 L861.91,1525.42 L866.16,1524.84 L870.42,1524.26 L874.69,1523.69 L878.97,1523.13 L883.26,1522.57 L887.55,1522.01 L891.85,1521.46 L896.16,1520.92 L900.48,1520.38 L904.81,1519.85 L909.14,1519.32 L913.48,1518.79" fill="none" stroke="#2d2d2d" stroke-width="1.2"/><path d="M247.32,1635.04 L248.3,1633.21 L249.3,1631.4 L250.32,1629.62 L251.37,1627.87 L252.43,1626.14 L253.52,1624.43 L254.63,1622.75 L255.76,1621.09 L256.92,1619.46 L258.1,1617.86 L259.3,1616.28 L260.53,1614.72 L261.77,1613.19 L263.05,1611.68 L264.34,1610.2 L265.66,1608.75 L267.01,1607.31 L268.38,1605.9 L269.77,1604.52 L271.19,1603.16 L272.64,1601.82 L274.11,1600.51 L275.61,1599.22 L277.13,1597.95 L278.68,1596.71 L280.25,1595.49 L281.85,1594.29 L283.48,1593.12 L285.14,1591.97 L286.82,1590.84 L288.53,1589.74 L290.27,1588.65 L292.03,1587.59 L293.82,1586.55 L295.64,1585.54 L297.49,1584.54 L299.37,1583.57 L301.27,1582.61 L303.2,1581.68 L305.17,1580.77 L307.16,1579.88 L309.18,1579.01 L311.22,1578.16 L313.3,1577.33 L315.4,1576.52 L317.54,1575.73 L319.7,1574.96 L321.89,1574.21 L324.12,1573.48 L326.37,1572.77 L328.65,1572.08 L330.96,1571.4 L333.29,1570.75 L335.66,1570.11 L338.06,1569.49 L340.48,1568.89 L342.93,1568.31 L345.42,1567.75 L347.93,1567.2 L350.47,1566.68 L353.03,1566.17 L355.63,1565.67 L358.25,1565.2 L360.9,1564.74 L363.58,1564.3 L366.29,1563.88 L369.02,1563.47 L371.78,1563.08 L374.57,1562.71 L377.38,1562.35 L380.22,1562.01 L383.08,1561.68 L385.97,1561.38 L388.88,1561.09 L391.82,1560.81 L394.78,1560.55 L397.76,1560.31 L400.77,1560.08 L403.8,1559.87 L406.85,1559.67 L409.92,1559.49 L413.02,1559.33 L416.13,1559.18 L419.26,1559.05 L422.41,1558.93 L425.58,1558.83 L428.77,1558.74 L431.98,1558.67 L435.2,1558.61 L438.43,1558.57 L441.69,1558.55 L444.95,1558.54 L448.23,1558.54 L451.52,1558.57 L454.82,1558.6 L458.14,1558.66 L461.46,1558.72 L464.8,1558.81 L468.14,1558.91 L471.49,1559.02 L474.84,1559.15 L478.2,1559.29 L481.57,1559.46 L484.94,1559.63 L488.31,1559.83 L491.68,1560.03 L495.06,1560.26 L498.43,1560.5 L501.8,1560.75 L505.17,1561.03 L508.54,1561.31 L511.9,1561.62 L515.26,1561.94 L518.61,1562.27 L521.95,1562.63 L525.28,1563 L528.61,1563.38 L531.92,1563.79 L535.22,1564.21 L538.51,1564.65 L541.78,1565.1 L545.04,1565.57 L548.28,1566.06 L551.5,1566.57 L554.71,1567.09 L557.89,1567.63 L561.06,1568.19 L564.2,1568.77 L567.32,1569.36 L570.42,1569.98 L573.48,1570.61 L576.53,1571.26 L579.54,1571.93 L582.53,1572.62 L585.49,1573.33 L588.41,1574.05 L591.31,1574.8 L594.17,1575.56 L597,1576.35 L599.79,1577.15 L602.55,1577.98 L605.27,1578.83 L607.95,1579.69 L610.59,1580.58 L613.2,1581.48 L615.76,1582.41 L618.28,1583.36 L620.76,1584.33 L623.19,1585.32 L625.58,1586.33 L627.92,1587.37 L630.22,1588.43 L632.47,1589.5 L634.67,1590.61 L636.82,1591.73 L638.93,1592.87 L640.98,1594.04 L642.98,1595.23 L644.93,1596.45 L646.83,1597.69 L648.68,1598.95 L650.47,1600.23 L652.2,1601.54 L653.88,1602.87 L655.51,1604.23 L657.07,1605.61 L658.58,1607.01 L660.04,1608.44 L661.43,1609.89 L662.77,1611.37 L664.04,1612.87 L665.26,1614.39 L666.42,1615.94 L667.51,1617.52 L668.55,1619.12 L669.52,1620.75 L670.43,1622.4 L671.28,1624.07 L672.07,1625.77 L672.79,1627.5 L673.46,1629.25 L674.06,1631.02 L674.59,1632.82 L675.06,1634.64 L675.47,1636.49 L675.81,1638.37 L676.09,1640.27 L676.31,1642.19 L676.46,1644.14 L676.55,1646.11 L676.57,1648.11 L676.53,1650.13 L676.42,1652.18 L676.26,1654.25 L676.02,1656.34 L675.72,1658.45 L675.36,1660.59 L674.93,1662.76 L674.44,1664.94 L673.89,1667.15 L673.27,1669.38 L672.6,1671.63 L671.85,1673.9 L671.05,1676.2 L670.18,1678.51 L669.25,1680.85 L668.26,1683.2 L667.21,1685.58 L666.09,1687.97 L664.92,1690.38 L663.69,1692.82 L662.39,1695.26 L661.04,1697.73 L659.63,1700.21 L658.16,1702.71 L656.63,1705.23 L655.05,1707.76 L653.41,1710.31 L651.71,1712.86 L649.96,1715.44 L648.16,1718.02 L646.3,1720.62 L644.39,1723.23 L642.42,1725.85 L640.4,1728.48 L638.34,1731.12 L636.22,1733.77 L634.05,1736.43 L631.84,1739.09 L629.57,1741.77 L627.26,1744.44 L624.9,1747.13 L622.5,1749.82 L620.06,1752.51 L617.57,1755.2 L615.03,1757.9 L612.46,1760.6 L609.85,1763.3 L607.19,1766 L604.5,1768.69 L601.77,1771.39 L599,1774.09 L596.2,1776.78 L593.36,1779.46 L590.49,1782.15 L587.59,1784.82 L584.65,1787.5 L581.68,1790.16 L578.69,1792.82 L575.67,1795.46 L572.62,1798.1 L569.54,1800.73 L566.44,1803.35 L563.31,1805.96 L560.16,1808.55 L556.99,1811.13 L553.8,1813.7 L550.59,1816.25 L547.36,1818.79 L544.12,1821.31 L540.85,1823.82 L537.58,1826.3 L534.28,1828.77 L530.98,1831.23 L527.66,1833.66 L524.34,1836.07 L521,1838.47 L517.66,1840.84 L514.31,1843.19 L510.95,1845.52 L507.58,1847.82 L504.22,1850.1 L500.84,1852.36 L497.47,1854.6 L494.1,1856.81 L490.72,1858.99 L487.35,1861.15 L483.98,1863.28 L480.61,1865.39 L477.25,1867.47 L473.89,1869.52 L470.53,1871.55 L467.19,1873.54 L463.85,1875.51 L460.52,1877.45 L457.2,1879.36 L453.89,1881.23 L450.59,1883.08 L447.3,1884.9 L444.02,1886.69 L440.76,1888.45 L437.51,1890.17 L434.28,1891.87 L431.06,1893.53 L427.86,1895.16 L424.68,1896.76 L421.52,1898.33 L418.37,1899.86 L415.24,1901.36 L412.13,1902.83 L409.05,1904.27 L405.98,1905.67 L402.94,1907.04 L399.91,1908.37 L396.91,1909.67 L393.93,1910.94 L390.98,1912.17 L388.05,1913.37 L385.14,1914.54 L382.26,1915.67 L379.41,1916.76 L376.58,1917.82 L373.77,1918.85 L370.99,1919.84 L368.24,1920.8 L365.52,1921.72 L362.82,1922.61 L360.15,1923.46 L357.51,1924.28 L354.89,1925.06 L352.3,1925.81 L349.74,1926.52 L347.21,1927.2 L344.71,1927.84 L342.24,1928.45 L339.79,1929.02 L337.37,1929.55 L334.99,1930.05 L332.63,1930.52 L330.3,1930.95 L328,1931.34 L325.72,1931.7 L323.48,1932.02 L321.27,1932.31 L319.08,1932.56 L316.93,1932.78 L314.8,1932.96 L312.71,1933.11 L310.64,1933.22 L308.6,1933.29 L306.59,1933.33 L304.61,1933.33 L302.65,1933.3 L300.73,1933.24 L298.83,1933.13 L296.96,1932.99 L295.12,1932.82 L293.31,1932.61 L291.53,1932.37 L289.77,1932.09 L288.04,1931.77 L286.34,1931.42 L284.67,1931.03 L283.02,1930.61 L281.4,1930.15 L279.8,1929.66 L278.24,1929.13 L276.69,1928.57 L275.18,1927.97 L273.69,1927.34 L272.23,1926.67 L270.79,1925.96 L269.38,1925.22 L267.99,1924.45 L266.62,1923.64 L265.29,1922.79 L263.97,1921.91 L262.68,1921 L261.42,1920.05 L260.17,1919.06 L258.96,1918.05 L257.76,1916.99 L256.59,1915.9 L255.44,1914.78 L254.31,1913.62 L253.21,1912.43 L252.13,1911.2 L251.07,1909.95 L250.03,1908.65 L249.01,1907.32 L248.02,1905.96 L247.04,1904.57 L246.09,1903.14 L245.16,1901.68 L244.24,1900.18 L243.35,1898.66 L242.48,1897.1 L241.63,1895.51 L240.8,1893.88 L239.98,1892.23 L239.19,1890.54 L238.42,1888.82 L237.66,1887.07 L236.93,1885.29 L236.21,1883.47 L235.51,1881.63 L234.83,1879.76 L234.16,1877.86 L233.52,1875.92 L232.89,1873.96 L232.28,1871.97 L231.69,1869.95 L231.11,1867.91 L230.55,1865.84 L230.01,1863.74 L229.49,1861.61 L228.98,1859.45 L228.49,1857.28 L228.01,1855.07 L227.55,1852.84 L227.11,1850.59 L226.68,1848.31 L226.27,1846.01 L225.88,1843.69 L225.5,1841.34 L225.13,1838.97 L224.79,1836.58 L224.45,1834.17 L224.13,1831.75 L223.83,1829.3 L223.54,1826.83 L223.27,1824.35 L223.01,1821.85 L222.77,1819.33 L222.54,1816.79 L222.33,1814.24 L222.13,1811.68 L221.95,1809.1 L221.78,1806.51 L221.62,1803.91 L221.48,1801.29 L221.35,1798.66 L221.24,1796.03 L221.14,1793.38 L221.06,1790.73 L220.99,1788.06 L220.94,1785.39 L220.9,1782.72 L220.87,1780.04 L220.86,1777.35 L220.86,1774.66 L220.88,1771.96 L220.91,1769.27 L220.95,1766.57 L221.01,1763.87 L221.08,1761.17 L221.17,1758.47 L221.27,1755.78 L221.39,1753.08 L221.52,1750.39 L221.66,1747.7 L221.82,1745.02 L222,1742.34 L222.18,1739.66 L222.39,1737 L222.61,1734.34 L222.84,1731.69 L223.08,1729.04 L223.35,1726.41 L223.62,1723.79 L223.92,1721.18 L224.22,1718.58 L224.55,1715.99 L224.88,1713.41 L225.24,1710.85 L225.6,1708.3 L225.99,1705.77 L226.39,1703.25 L226.8,1700.75 L227.23,1698.26 L227.68,1695.79 L228.15,1693.34 L228.63,1690.9 L229.12,1688.48 L229.63,1686.08 L230.16,1683.71 L230.71,1681.35 L231.27,1679.01 L231.85,1676.69 L232.45,1674.39 L233.07,1672.11 L233.7,1669.86 L234.35,1667.62 L235.02,1665.41 L235.7,1663.22 L236.41,1661.05 L237.13,1658.91 L237.87,1656.79 L238.63,1654.69 L239.41,1652.62 L240.21,1650.56 L241.03,1648.54 L241.87,1646.54 L242.73,1644.56 L243.6,1642.6 L244.5,1640.68 L245.42,1638.77 L246.36,1636.89 L247.32,1635.04Z" fill="none" stroke="#2d2d2d" stroke-width="1.2"/><path d="M149.94,2162.25 L150.52,2161.02 L151.11,2159.77 L151.72,2158.5 L152.35,2157.22 L153,2155.91 L153.67,2154.58 L154.36,2153.24 L155.07,2151.87 L155.8,2150.49 L156.56,2149.08 L157.34,2147.65 L158.14,2146.21 L158.96,2144.74 L159.81,2143.25 L160.69,2141.74 L161.59,2140.2 L162.52,2138.65 L163.48,2137.07 L164.46,2135.47 L165.48,2133.85 L166.53,2132.21 L167.6,2130.54 L168.72,2128.86 L169.86,2127.14 L171.04,2125.41 L172.25,2123.65 L173.5,2121.87 L174.79,2120.06 L176.11,2118.23 L177.47,2116.38 L178.88,2114.5 L180.33,2112.6 L181.81,2110.68 L183.35,2108.73 L184.92,2106.75 L186.55,2104.75 L188.22,2102.73 L189.94,2100.68 L191.71,2098.6 L193.54,2096.5 L195.41,2094.38 L197.34,2092.23 L199.33,2090.05 L201.37,2087.85 L203.47,2085.62 L205.64,2083.37 L207.86,2081.09 L210.15,2078.79 L212.5,2076.46 L214.93,2074.1 L217.41,2071.72 L219.97,2069.31 L222.61,2066.88 L225.31,2064.42 L228.1,2061.94 L230.96,2059.43 L233.9,2056.9 L236.92,2054.33 L240.02,2051.75 L243.21,2049.14 L246.49,2046.5 L249.85,2043.84 L253.31,2041.15 L256.86,2038.44 L260.51,2035.7 L264.26,2032.94 L268.1,2030.16 L272.05,2027.34 L276.1,2024.51 L280.26,2021.65 L284.53,2018.77 L288.91,2015.86 L293.4,2012.93 L298.01,2009.98 L302.73,2007 L307.58,2004.01 L312.54,2000.99 L317.64,1997.94 L322.85,1994.88 L328.2,1991.79 L333.68,1988.69 L339.29,1985.56 L345.04,1982.41 L350.93,1979.24 L356.95,1976.05 L363.12,1972.84 L369.43,1969.62 L375.89,1966.37 L382.49,1963.11 L389.25,1959.82 L396.16,1956.52 L403.22,1953.21 L410.44,1949.88 L417.81,1946.53 L425.34,1943.16 L433.03,1939.78 L440.89,1936.39 L448.91,1932.98 L457.09,1929.56 L465.43,1926.12 L473.95,1922.68 L482.63,1919.22 L491.47,1915.75 L500.49,1912.27 L509.67,1908.77 L519.03,1905.27 L528.55,1901.76 L538.24,1898.24 L548.11,1894.71 L558.14,1891.18 L568.34,1887.64 L578.7,1884.09 L589.24,1880.54 L599.94,1876.98 L610.8,1873.41 L621.83,1869.85 L633.02,1866.28 L644.37,1862.71 L655.88,1859.13 L667.54,1855.56 L679.36,1851.98 L691.33,1848.4 L703.44,1844.83 L715.7,1841.25 L728.11,1837.68 L740.65,1834.11 L753.32,1830.54 L766.12,1826.98 L779.05,1823.42 L792.1,1819.86 L805.27,1816.31 L818.55,1812.77 L831.94,1809.23 L845.43,1805.7 L859.02,1802.18 L872.7,1798.67 L886.47,1795.16 L900.32,1791.67 L914.24,1788.19 L928.23,1784.71 L942.28,1781.25 L956.39,1777.8 L970.55,1774.36 L984.75,1770.94 L998.99,1767.53 L1013.26,1764.13 L1027.56,1760.75 L1041.87,1757.38 L1056.19,1754.03 L1070.51,1750.69 L1084.83,1747.37 L1099.14,1744.07 L1113.44,1740.78 L1127.71,1737.51 L1141.95,1734.26 L1156.15,1731.03 L1170.31,1727.82 L1184.42,1724.62 L1198.47,1721.45 L1212.46,1718.3 L1226.38,1715.16 L1240.23,1712.05 L1254,1708.96 L1267.68,1705.89 L1281.27,1702.84 L1294.76,1699.82 L1308.15,1696.81 L1321.43,1693.83 L1334.6,1690.87 L1347.65,1687.94 L1360.58,1685.03 L1373.38,1682.14 L1386.05,1679.27 L1398.59,1676.43 L1411,1673.62 L1423.26,1670.82 L1435.37,1668.06 L1447.34,1665.31 L1459.16,1662.6 L1470.82,1659.9 L1482.33,1657.23 L1493.68,1654.59 L1504.87,1651.97 L1515.9,1649.38 L1526.76,1646.82 L1537.46,1644.27 L1548,1641.76 L1558.36,1639.27 L1568.56,1636.81 L1578.59,1634.37 L1588.46,1631.95 L1598.15,1629.57 L1607.67,1627.21 L1617.03,1624.87 L1626.21,1622.56 L1635.23,1620.28 L1644.07,1618.02 L1652.75,1615.78 L1661.27,1613.58 L1669.61,1611.39 L1677.79,1609.24 L1685.81,1607.11 L1693.67,1605 L1701.36,1602.92 L1708.89,1600.86 L1716.26,1598.83 L1723.48,1596.83 L1730.54,1594.85 L1737.45,1592.89 L1744.21,1590.96 L1750.81,1589.05 L1757.27,1587.17 L1763.58,1585.31 L1769.75,1583.47 L1775.77,1581.66 L1781.66,1579.87 L1787.41,1578.11 L1793.02,1576.37 L1798.5,1574.65 L1803.85,1572.96 L1809.06,1571.29 L1814.16,1569.64 L1819.12,1568.01 L1823.97,1566.41 L1828.69,1564.83 L1833.3,1563.27 L1837.79,1561.73 L1842.17,1560.21 L1846.44,1558.72 L1850.6,1557.24 L1854.65,1555.79 L1858.6,1554.36 L1862.44,1552.95 L1866.19,1551.56 L1869.84,1550.19 L1873.39,1548.84 L1876.85,1547.51 L1880.21,1546.19 L1883.49,1544.9 L1886.68,1543.63 L1889.78,1542.38 L1892.8,1541.14 L1895.74,1539.93 L1898.6,1538.73 L1901.39,1537.55 L1904.09,1536.39 L1906.73,1535.24 L1909.29,1534.12 L1911.77,1533.01 L1914.2,1531.91 L1916.55,1530.84 L1918.84,1529.78 L1921.06,1528.74 L1923.23,1527.71 L1925.33,1526.7 L1927.37,1525.71 L1929.36,1524.73 L1931.29,1523.77 L1933.16,1522.82 L1934.99,1521.89 L1936.76,1520.97 L1938.48,1520.07 L1940.15,1519.18 L1941.78,1518.31 L1943.35,1517.45 L1944.89,1516.6 L1946.37,1515.77 L1947.82,1514.95 L1949.23,1514.14 L1950.59,1513.35 L1951.91,1512.57 L1953.2,1511.81 L1954.45,1511.05 L1955.66,1510.31 L1956.84,1509.58 L1957.98,1508.87 L1959.1,1508.16 L1960.17,1507.47 L1961.22,1506.79 L1962.24,1506.11 L1963.22,1505.46 L1964.18,1504.81 L1965.11,1504.17 L1966.01,1503.54 L1966.89,1502.93 L1967.74,1502.32 L1968.56,1501.73 L1969.36,1501.14 L1970.14,1500.56 L1970.9,1500 L1971.63,1499.44 L1972.34,1498.9 L1973.03,1498.36 L1973.7,1497.83 L1974.35,1497.31 L1974.98,1496.8 L1975.59,1496.3 L1976.18,1495.81 L1976.76,1495.32" fill="none" stroke="#4d45c6" stroke-width="1.8" stroke-dasharray="2.2 3.8"/><path d="M234.49,2071.55 L233.66,2072.21 L232.83,2072.86 L232.02,2073.51 L231.21,2074.16 L230.4,2074.81 L229.61,2075.46 L228.82,2076.1 L228.03,2076.74 L227.25,2077.38 L226.48,2078.01 L225.71,2078.65 L224.95,2079.28 L224.19,2079.91 L223.44,2080.53 L222.7,2081.16 L221.96,2081.78 L221.23,2082.4 L220.5,2083.02 L219.78,2083.63 L219.06,2084.25 L218.35,2084.86 L217.65,2085.47 L216.95,2086.07 L216.26,2086.68 L215.57,2087.28 L214.89,2087.88 L214.21,2088.48 L213.54,2089.07 L212.88,2089.66 L212.22,2090.26 L211.56,2090.84 L210.91,2091.43 L210.27,2092.01 L209.63,2092.59 L209,2093.17 L208.37,2093.75 L207.74,2094.32 L207.13,2094.89 L206.51,2095.46 L205.91,2096.03 L205.3,2096.59 L204.71,2097.15 L204.11,2097.71 L203.53,2098.27 L202.94,2098.82 L202.36,2099.38 L201.79,2099.93 L201.22,2100.47 L200.66,2101.02 L200.1,2101.56 L199.55,2102.1 L199,2102.64 L198.46,2103.18 L197.92,2103.71 L197.38,2104.24 L196.85,2104.77 L196.32,2105.29 L195.8,2105.82 L195.29,2106.34 L194.77,2106.86 L194.27,2107.37 L193.76,2107.89 L193.26,2108.4 L192.77,2108.91 L192.28,2109.41 L191.79,2109.92 L191.31,2110.42 L190.83,2110.92 L190.36,2111.41 L189.89,2111.91 L189.43,2112.4 L188.96,2112.89 L188.51,2113.38 L188.05,2113.86 L187.61,2114.35 L187.16,2114.83 L186.72,2115.3 L186.28,2115.78 L185.85,2116.25 L185.42,2116.72 L185,2117.19 L184.57,2117.66 L184.16,2118.12 L183.74,2118.58 L183.33,2119.04 L182.93,2119.5 L182.52,2119.95 L182.12,2120.4 L181.73,2120.85 L181.34,2121.3 L180.95,2121.74 L180.56,2122.18 L180.18,2122.62 L179.8,2123.06 L179.43,2123.5 L179.06,2123.93 L178.69,2124.36 L178.33,2124.79 L177.96,2125.21 L177.61,2125.64 L177.25,2126.06 L176.9,2126.48 L176.55,2126.89 L176.21,2127.31 L175.87,2127.72 L175.53,2128.13 L175.19,2128.54 L174.86,2128.94 L174.53,2129.34 L174.21,2129.75 L173.88,2130.14 L173.56,2130.54 L173.25,2130.93 L172.93,2131.32 L172.62,2131.71 L172.31,2132.1 L172.01,2132.49 L171.71,2132.87 L171.41,2133.25 L171.11,2133.63 L170.81,2134 L170.52,2134.38 L170.24,2134.75 L169.95,2135.12 L169.67,2135.48 L169.39,2135.85 L169.11,2136.21 L168.83,2136.57 L168.56,2136.93 L168.29,2137.28 L168.02,2137.64 L167.76,2137.99 L167.5,2138.34 L167.24,2138.69 L166.98,2139.03 L166.72,2139.38 L166.47,2139.72 L166.22,2140.06 L165.97,2140.39 L165.73,2140.73 L165.48,2141.06 L165.24,2141.39 L165,2141.72 L164.77,2142.04 L164.53,2142.37 L164.3,2142.69 L164.07,2143.01 L163.85,2143.33 L163.62,2143.64 L163.4,2143.96 L163.18,2144.27 L162.96,2144.58 L162.74,2144.89 L162.53,2145.19 L162.32,2145.5 L162.1,2145.8 L161.9,2146.1 L161.69,2146.4 L161.49,2146.69 L161.28,2146.98 L161.08,2147.28 L160.89,2147.57 L160.69,2147.85 L160.49,2148.14 L160.3,2148.42 L160.11,2148.71 L159.92,2148.99 L159.73,2149.26 L159.55,2149.54 L159.37,2149.81 L159.18,2150.09 L159,2150.36 L158.83,2150.62 L158.65,2150.89 L158.48,2151.16 L158.3,2151.42 L158.13,2151.68 L157.96,2151.94 L157.79,2152.2 L157.63,2152.45 L157.46,2152.7 L157.3,2152.96 L157.14,2153.21 L156.98,2153.45 L156.82,2153.7 L156.66,2153.94 L156.51,2154.19 L156.36,2154.43 L156.2,2154.66 L156.05,2154.9 L155.91,2155.14 L155.76,2155.37 L155.61,2155.6 L155.47,2155.83 L155.32,2156.06 L155.18,2156.29 L155.04,2156.51 L154.9,2156.73 L154.77,2156.95 L154.63,2157.17 L154.5,2157.39 L154.36,2157.61 L154.23,2157.82 L154.1,2158.03 L153.97,2158.25 L153.84,2158.45 L153.72,2158.66 L153.59,2158.87 L153.47,2159.07 L153.34,2159.27 L153.22,2159.47 L153.1,2159.67 L152.98,2159.87 L152.87,2160.07 L152.75,2160.26 L152.63,2160.45 L152.52,2160.64 L152.41,2160.83 L152.29,2161.02 L152.18,2161.21 L152.07,2161.39 L151.97,2161.57 L151.86,2161.75 L151.75,2161.93 L151.65,2162.11 L151.54,2162.29 L151.44,2162.46 L151.34,2162.64 L151.24,2162.81 L151.14,2162.98 L151.04,2163.15 L150.94,2163.31 L150.85,2163.48 L150.75,2163.64 L150.66,2163.8 L150.56,2163.96 L150.47,2164.12 L150.38,2164.28 L150.29,2164.44 L150.2,2164.59 L150.11,2164.74 L150.02,2164.9 L149.94,2165.05 L149.85,2165.2 L149.77,2165.34 L149.68,2165.49 L149.6,2165.63 L149.52,2165.77 L149.44,2165.92 L149.36,2166.06 L149.28,2166.19 L149.2,2166.33 L149.12,2166.47 L149.04,2166.6 L148.97,2166.73 L148.89,2166.86 L148.82,2166.99 L148.75,2167.12 L148.67,2167.25 L148.6,2167.37 L148.53,2167.5 L148.46,2167.62 L148.39,2167.74 L148.33,2167.86 L148.26,2167.98 L148.19,2168.1 L148.13,2168.21 L148.06,2168.33 L148,2168.44 L147.93,2168.55 L147.87,2168.66 L147.81,2168.77 L147.75,2168.88 L147.69,2168.98 L147.63,2169.09 L147.57,2169.19 L147.51,2169.29 L147.45,2169.39 L147.39,2169.49 L147.34,2169.59 L147.28,2169.68 L147.23,2169.78 L147.17,2169.87 L147.12,2169.96 L147.07,2170.06 L147.02,2170.15 L146.97,2170.23 L146.91,2170.32 L146.86,2170.41 L146.82,2170.49 L146.77,2170.57 L146.72,2170.66 L146.67,2170.74 L146.63,2170.82 L146.58,2170.89 L146.53,2170.97 L146.49,2171.05 L146.45,2171.12 L146.4,2171.19 L146.36,2171.26 L146.32,2171.33 L146.28,2171.4 L146.23,2171.47 L146.19,2171.54 L146.15,2171.6 L146.12,2171.67 L146.08,2171.73 L146.04,2171.79 L146,2171.85 L145.96,2171.91 L145.93,2171.97 L145.89,2172.02 L145.86,2172.08 L145.82,2172.13 L145.79,2172.18 L145.76,2172.23 L145.72,2172.28 L145.69,2172.33 L145.66,2172.38 L145.63,2172.43 L145.6,2172.47 L145.57,2172.52 L145.54,2172.56 L145.51,2172.6 L145.48,2172.64 L145.46,2172.68 L145.43,2172.72 L145.4,2172.75 L145.38,2172.79 L145.35,2172.82 L145.32,2172.85 L145.3,2172.89 L145.28,2172.92 L145.25,2172.94 L145.23,2172.97 L145.21,2173 L145.19,2173.02 L145.16,2173.05 L145.14,2173.07 L145.12,2173.09 L145.1,2173.11 L145.08,2173.13 L145.07,2173.15 L145.05,2173.17 L145.03,2173.18 L145.01,2173.2 L145,2173.21 L144.98,2173.22 L144.96,2173.23 L144.95,2173.24 L144.93,2173.25 L144.92,2173.26 L144.91,2173.26 L144.89,2173.27 L144.88,2173.27 L144.87,2173.27 L144.86,2173.27 L144.84,2173.27 L144.83,2173.27 L144.82,2173.27 L144.81,2173.27 L144.8,2173.26 L144.79,2173.26 L144.79,2173.25 L144.78,2173.24 L144.77,2173.23 L144.76,2173.22 L144.76,2173.21 L144.75,2173.19 L144.75,2173.18 L144.74,2173.16 L144.74,2173.14 L144.73,2173.13 L144.73,2173.11 L144.73,2173.09 L144.72,2173.06 L144.72,2173.04 L144.72,2173.02 L144.72,2172.99 L144.72,2172.96 L144.72,2172.94 L144.72,2172.91 L144.72,2172.88 L144.72,2172.84 L144.72,2172.81 L144.72,2172.78 L144.73,2172.74 L144.73,2172.7 L144.73,2172.67 L144.74,2172.63 L144.74,2172.59 L144.75,2172.55 L144.75,2172.5 L144.76,2172.46 L144.76,2172.41 L144.77,2172.37 L144.78,2172.32 L144.79,2172.27 L144.79,2172.22 L144.8,2172.17 L144.81,2172.11 L144.82,2172.06 L144.83,2172 L144.84,2171.95 L144.85,2171.89 L144.87,2171.83 L144.88,2171.77 L144.89,2171.71 L144.9,2171.65 L144.92,2171.58 L144.93,2171.52 L144.95,2171.45 L144.96,2171.38 L144.98,2171.31 L144.99,2171.24 L145.01,2171.17 L145.03,2171.1 L145.05,2171.02 L145.06,2170.95 L145.08,2170.87 L145.1,2170.79 L145.12,2170.71 L145.14,2170.63 L145.16,2170.55 L145.18,2170.47 L145.21,2170.38 L145.23,2170.29 L145.25,2170.21 L145.27,2170.12 L145.3,2170.03 L145.32,2169.94 L145.35,2169.84 L145.37,2169.75 L145.4,2169.65 L145.43,2169.56 L145.45,2169.46 L145.48,2169.36 L145.51,2169.26 L145.54,2169.16 L145.57,2169.05 L145.6,2168.95 L145.63,2168.84 L145.66,2168.73 L145.69,2168.63 L145.72,2168.52 L145.75,2168.4 L145.79,2168.29 L145.82,2168.18 L145.86,2168.06 L145.89,2167.94 L145.93,2167.82 L145.96,2167.7 L146,2167.58 L146.04,2167.46 L146.07,2167.33 L146.11,2167.21 L146.15,2167.08 L146.19,2166.95 L146.23,2166.82 L146.27,2166.69 L146.31,2166.56 L146.36,2166.42 L146.4,2166.29 L146.44,2166.15 L146.49,2166.01 L146.53,2165.87 L146.58,2165.73 L146.62,2165.59 L146.67,2165.44 L146.72,2165.3 L146.76,2165.15 L146.81,2165 L146.86,2164.85 L146.91,2164.7 L146.96,2164.54 L147.01,2164.39 L147.07,2164.23 L147.12,2164.07 L147.17,2163.91 L147.22,2163.75 L147.28,2163.59 L147.33,2163.43 L147.39,2163.26 L147.45,2163.09 L147.51,2162.92 L147.56,2162.75 L147.62,2162.58 L147.68,2162.41 L147.74,2162.23 L147.8,2162.06 L147.87,2161.88 L147.93,2161.7 L147.99,2161.52 L148.06,2161.33 L148.12,2161.15 L148.19,2160.96 L148.25,2160.77 L148.32,2160.58 L148.39,2160.39 L148.46,2160.2 L148.53,2160.01 L148.6,2159.81 L148.67,2159.61 L148.74,2159.41 L148.82,2159.21 L148.89,2159.01 L148.96,2158.8 L149.04,2158.6 L149.12,2158.39 L149.19,2158.18 L149.27,2157.97 L149.35,2157.76 L149.43,2157.54 L149.51,2157.32 L149.59,2157.11 L149.68,2156.89 L149.76,2156.67 L149.85,2156.44 L149.93,2156.22 L150.02,2155.99 L150.1,2155.76 L150.19,2155.53 L150.28,2155.3 L150.37,2155.06 L150.46,2154.83 L150.56,2154.59 L150.65,2154.35 L150.74,2154.11 L150.84,2153.87 L150.94,2153.62 L151.03,2153.38 L151.13,2153.13 L151.23,2152.88 L151.33,2152.63 L151.43,2152.37 L151.54,2152.12 L151.64,2151.86 L151.75,2151.6 L151.85,2151.34 L151.96,2151.07 L152.07,2150.81 L152.18,2150.54 L152.29,2150.27 L152.4,2150 L152.51,2149.73 L152.63,2149.45 L152.74,2149.18 L152.86,2148.9 L152.98,2148.62 L153.1,2148.34 L153.22,2148.05 L153.34,2147.77 L153.46,2147.48 L153.58,2147.19 L153.71,2146.89 L153.84,2146.6 L153.96,2146.3 L154.09,2146.01 L154.22,2145.71 L154.35,2145.4 L154.49,2145.1 L154.62,2144.79 L154.76,2144.48 L154.9,2144.17 L155.03,2143.86 L155.17,2143.55 L155.32,2143.23 L155.46,2142.91 L155.6,2142.59 L155.75,2142.27 L155.9,2141.94 L156.04,2141.62 L156.2,2141.29 L156.35,2140.96 L156.5,2140.62 L156.66,2140.29 L156.81,2139.95 L156.97,2139.61 L157.13,2139.27 L157.29,2138.93 L157.45,2138.58 L157.62,2138.23 L157.78,2137.88 L157.95,2137.53 L158.12,2137.17 L158.29,2136.82 L158.46,2136.46 L158.64,2136.1 L158.82,2135.73 L158.99,2135.37 L159.17,2135 L159.35,2134.63 L159.54,2134.26 L159.72,2133.89 L159.91,2133.51 L160.1,2133.13 L160.29,2132.75 L160.48,2132.37 L160.68,2131.98 L160.87,2131.59 L161.07,2131.2 L161.27,2130.81 L161.47,2130.42 L161.68,2130.02 L161.88,2129.62 L162.09,2129.22 L162.3,2128.82 L162.51,2128.41 L162.73,2128 L162.94,2127.59 L163.16,2127.18 L163.38,2126.77 L163.61,2126.35 L163.83,2125.93 L164.06,2125.51 L164.29,2125.08 L164.52,2124.66 L164.75,2124.23 L164.99,2123.8 L165.23,2123.36 L165.47,2122.93 L165.71,2122.49 L165.96,2122.05 L166.2,2121.6 L166.45,2121.16 L166.71,2120.71 L166.96,2120.26 L167.22,2119.81 L167.48,2119.36 L167.74,2118.9 L168.01,2118.44 L168.27,2117.98 L168.54,2117.51 L168.82,2117.05 L169.09,2116.58 L169.37,2116.11 L169.65,2115.63 L169.93,2115.16 L170.22,2114.68 L170.51,2114.2 L170.8,2113.71 L171.09,2113.23 L171.39,2112.74 L171.69,2112.25 L171.99,2111.76 L172.29,2111.26 L172.6,2110.76 L172.91,2110.26 L173.23,2109.76 L173.54,2109.26 L173.86,2108.75 L174.19,2108.24 L174.51,2107.73 L174.84,2107.21 L175.17,2106.7 L175.51,2106.18 L175.85,2105.65 L176.19,2105.13 L176.53,2104.6 L176.88,2104.08 L177.23,2103.54 L177.58,2103.01 L177.94,2102.47 L178.3,2101.94 L178.67,2101.39 L179.03,2100.85 L179.41,2100.31 L179.78,2099.76 L180.16,2099.21 L180.54,2098.65 L180.92,2098.1 L181.31,2097.54 L181.7,2096.98 L182.1,2096.42 L182.5,2095.85 L182.9,2095.29 L183.31,2094.72 L183.72,2094.14 L184.13,2093.57 L184.55,2092.99 L184.97,2092.41 L185.39,2091.83 L185.82,2091.25 L186.26,2090.66 L186.69,2090.07 L187.13,2089.48 L187.58,2088.89 L188.03,2088.29 L188.48,2087.7 L188.94,2087.1 L189.4,2086.49 L189.86,2085.89 L190.33,2085.28 L190.8,2084.67 L191.28,2084.06 L191.76,2083.45 L192.25,2082.83 L192.74,2082.21 L193.23,2081.59 L193.73,2080.97 L194.23,2080.34 L194.74,2079.71 L195.25,2079.08 L195.77,2078.45 L196.29,2077.82 L196.82,2077.18 L197.35,2076.54 L197.88,2075.9 L198.42,2075.26 L198.97,2074.61 L199.51,2073.96 L200.07,2073.31 L200.63,2072.66 L201.19,2072.01 L201.76,2071.35 L202.33,2070.69 L202.91,2070.03 L203.49,2069.37 L204.08,2068.71 L204.67,2068.04 L205.27,2067.37 L205.87,2066.7 L206.47,2066.03 L207.09,2065.35 L207.7,2064.67 L208.33,2063.99 L208.96,2063.31 L209.59,2062.63 L210.23,2061.95 L210.87,2061.26 L211.52,2060.57 L212.17,2059.88 L212.83,2059.19 L213.5,2058.49 L214.17,2057.79 L214.85,2057.1 L215.53,2056.39 L216.21,2055.69 L216.91,2054.99 L217.6,2054.28 L218.31,2053.57 L219.02,2052.86 L219.73,2052.15 L220.45,2051.44 L221.18,2050.73 L221.91,2050.01 L222.65,2049.29 L223.39,2048.57 L224.14,2047.85 L224.9,2047.12 L225.66,2046.4 L226.43,2045.67 L227.2,2044.94 L227.98,2044.21 L228.77,2043.48 L229.56,2042.75 L230.35,2042.01 L231.16,2041.28 L231.97,2040.54 L232.78,2039.8 L233.61,2039.06 L234.43,2038.32 L235.27,2037.57 L236.11,2036.83 L236.96,2036.08 L237.81,2035.33 L238.67,2034.58 L239.53,2033.83 L240.41,2033.08 L241.28,2032.33 L242.17,2031.57 L243.06,2030.81 L243.96,2030.06 L244.86,2029.3 L245.77,2028.54 L246.69,2027.78 L247.61,2027.02 L248.54,2026.25 L249.48,2025.49 L250.43,2024.72 L251.38,2023.96 L252.33,2023.19 L253.3,2022.42 L254.27,2021.65 L255.24,2020.88 L256.23,2020.11 L257.22,2019.33 L258.21,2018.56 L259.22,2017.79 L260.23,2017.01 L261.24,2016.23 L262.27,2015.46 L263.3,2014.68 L264.34,2013.9 L265.38,2013.12 L266.43,2012.34 L267.49,2011.56 L268.55,2010.78 L269.62,2009.99 L270.7,2009.21 L271.79,2008.43 L272.88,2007.64 L273.98,2006.86 L275.09,2006.07 L276.2,2005.29 L277.32,2004.5 L278.45,2003.71 L279.58,2002.93 L280.72,2002.14 L281.87,2001.35 L283.02,2000.56 L284.18,1999.77 L285.35,1998.98 L286.53,1998.19 L287.71,1997.4 L288.9,1996.61 L290.09,1995.82 L291.29,1995.03 L292.5,1994.24 L293.72,1993.45 L294.94,1992.66 L296.17,1991.87 L297.41,1991.08 L298.65,1990.28 L299.91,1989.49 L301.16,1988.7 L302.43,1987.91 L303.7,1987.12 L304.98,1986.33 L306.26,1985.54 L307.55,1984.75 L308.85,1983.96 L310.16,1983.17 L311.47,1982.37 L312.79,1981.58 L314.11,1980.79 L315.44,1980.01 L316.78,1979.22 L318.13,1978.43 L319.48,1977.64 L320.84,1976.85 L322.2,1976.06 L323.57,1975.28 L324.95,1974.49 L326.33,1973.7 L327.72,1972.92 L329.12,1972.13 L330.52,1971.35 L331.93,1970.56 L333.35,1969.78 L334.77,1969 L336.2,1968.22 L337.64,1967.44 L339.08,1966.66 L340.52,1965.88 L341.98,1965.1 L343.44,1964.32 L344.9,1963.54 L346.37,1962.77 L347.85,1961.99 L349.33,1961.22 L350.82,1960.44 L352.32,1959.67 L353.82,1958.9 L355.32,1958.13 L356.83,1957.36 L358.35,1956.59 L359.87,1955.83 L361.4,1955.06 L362.94,1954.3 L364.48,1953.53 L366.02,1952.77 L367.57,1952.01 L369.13,1951.25 L370.69,1950.49 L372.25,1949.73 L373.82,1948.98 L375.4,1948.22 L376.98,1947.47 L378.56,1946.72 L380.15,1945.97 L381.75,1945.22 L383.35,1944.48 L384.95,1943.73 L386.56,1942.99 L388.17,1942.24 L389.79,1941.5 L391.41,1940.76 L393.04,1940.03 L394.67,1939.29 L396.31,1938.56 L397.94,1937.83 L399.59,1937.1 L401.23,1936.37 L402.88,1935.64 L404.54,1934.92 L406.2,1934.19 L407.86,1933.47 L409.52,1932.75 L411.19,1932.03 L412.86,1931.32 L414.54,1930.61 L416.22,1929.89 L417.9,1929.19 L419.58,1928.48 L421.27,1927.77 L422.96,1927.07 L424.66,1926.37 L426.35,1925.67 L428.05,1924.97 L429.75,1924.28 L431.45,1923.59 L433.16,1922.9 L434.87,1922.21 L436.58,1921.52 L438.29,1920.84 L440.01,1920.16 L441.72,1919.48 L443.44,1918.8 L445.16,1918.13 L446.88,1917.46 L448.6,1916.79 L450.33,1916.12 L452.05,1915.46 L453.78,1914.8 L455.51,1914.14 L457.24,1913.48 L458.97,1912.83 L460.7,1912.18 L462.43,1911.53 L464.16,1910.88 L465.89,1910.24 L467.62,1909.6 L469.36,1908.96 L471.09,1908.33 L472.82,1907.69 L474.56,1907.06 L476.29,1906.44 L478.02,1905.81 L479.75,1905.19 L481.49,1904.57 L483.22,1903.95 L484.95,1903.34 L486.68,1902.73 L488.41,1902.12 L490.14,1901.52 L491.86,1900.92 L493.59,1900.32 L495.31,1899.72 L497.04,1899.13 L498.76,1898.54 L500.48,1897.95 L502.2,1897.37 L503.91,1896.79 L505.63,1896.21 L507.34,1895.63 L509.05,1895.06 L510.76,1894.49 L512.46,1893.93 L514.17,1893.37 L515.87,1892.81 L517.57,1892.25 L519.26,1891.7 L520.95,1891.15 L522.64,1890.6 L524.33,1890.06 L526.01,1889.52 L527.69,1888.98 L529.36,1888.45 L531.04,1887.92 L532.71,1887.39 L534.37,1886.87 L536.03,1886.35 L537.69,1885.83 L539.34,1885.32 L540.99,1884.81 L542.63,1884.3 L544.27,1883.8 L545.91,1883.3 L547.54,1882.8 L549.16,1882.31 L550.78,1881.82 L552.4,1881.33 L554.01,1880.85 L555.61,1880.37 L557.21,1879.89 L558.81,1879.42 L560.39,1878.95 L561.98,1878.48 L563.55,1878.02 L565.13,1877.56 L566.69,1877.11 L568.25,1876.66 L569.8,1876.21 L571.35,1875.77 L572.89,1875.32 L574.42,1874.89 L575.95,1874.45 L577.47,1874.02 L578.99,1873.6 L580.49,1873.18 L581.99,1872.76 L583.49,1872.34 L584.97,1871.93 L586.45,1871.52 L587.92,1871.12 L589.38,1870.72 L590.84,1870.32 L592.29,1869.93 L593.73,1869.54 L595.16,1869.15 L596.58,1868.77 L598,1868.39 L599.41,1868.02 L600.81,1867.65 L602.2,1867.28 L603.58,1866.92 L604.96,1866.56 L606.32,1866.21 L607.68,1865.86 L609.03,1865.51 L610.37,1865.16 L611.7,1864.82 L613.02,1864.49 L614.33,1864.16 L615.63,1863.83 L616.93,1863.5 L618.21,1863.18 L619.49,1862.87 L620.75,1862.55 L622.01,1862.24 L623.25,1861.94 L624.49,1861.64 L625.71,1861.34 L626.93,1861.05 L628.13,1860.76 L629.33,1860.47 L630.51,1860.19 L631.69,1859.91 L632.85,1859.64 L634.01,1859.37 L635.15,1859.1 L636.28,1858.84 L637.4,1858.58 L638.51,1858.33 L639.61,1858.08 L640.7,1857.83 L641.78,1857.59 L642.85,1857.35 L643.9,1857.12 L644.95,1856.89 L645.98,1856.66 L647.01,1856.44 L648.02,1856.22 L649.02,1856.01 L650,1855.8 L650.98,1855.59 L651.94,1855.39 L652.9,1855.2 L653.84,1855 L654.77,1854.81 L655.68,1854.63 L656.59,1854.44 L657.48,1854.27 L658.36,1854.09 L659.23,1853.92 L660.09,1853.76 L660.93,1853.6 L661.77,1853.44 L662.59,1853.29 L663.39,1853.14 L664.19,1852.99 L664.97,1852.85 L665.74,1852.71 L666.5,1852.58 L667.24,1852.45 L667.98,1852.33 L668.7,1852.21 L669.4,1852.09 L670.1,1851.98 L670.78,1851.87 L671.44,1851.77 L672.1,1851.67 L672.74,1851.57 L673.37,1851.48 L673.99,1851.39 L674.59,1851.31 L675.18,1851.23 L675.75,1851.15 L676.32,1851.08 L676.87,1851.01 L677.4,1850.95 L677.93,1850.89 L678.44,1850.84 L678.93,1850.78 L679.42,1850.74 L679.89,1850.69 L680.34,1850.66 L680.79,1850.62 L681.21,1850.59 L681.63,1850.57 L682.03,1850.54 L682.42,1850.53 L682.79,1850.51 L683.16,1850.5 L683.5,1850.5 L683.84,1850.5 L684.16,1850.5 L684.46,1850.5 L684.75,1850.52 L685.03,1850.53 L685.3,1850.55 L685.55,1850.57 L685.79,1850.6 L686.01,1850.63 L686.22,1850.67 L686.41,1850.71 L686.6,1850.75 L686.76,1850.8 L686.92,1850.85 L687.06,1850.91 L687.18,1850.97 L687.3,1851.03 L687.39,1851.1 L687.48,1851.17 L687.55,1851.25 L687.6,1851.33 L687.65,1851.42 L687.68,1851.51 L687.69,1851.6 L687.69,1851.7 L687.68,1851.8 L687.65,1851.9 L687.61,1852.01 L687.55,1852.13 L687.48,1852.24 L687.4,1852.37 L687.3,1852.49 L687.19,1852.62 L687.07,1852.76 L686.93,1852.89 L686.77,1853.04 L686.61,1853.18 L686.43,1853.33 L686.23,1853.49 L686.02,1853.65 L685.8,1853.81 L685.56,1853.98 L685.31,1854.15 L685.05,1854.32 L684.77,1854.5 L684.48,1854.68 L684.18,1854.87 L683.86,1855.06 L683.52,1855.26 L683.18,1855.46 L682.82,1855.66 L682.44,1855.87 L682.06,1856.08 L681.66,1856.29 L681.24,1856.51 L680.81,1856.73 L680.37,1856.96 L679.92,1857.19 L679.45,1857.43 L678.96,1857.67 L678.47,1857.91 L677.96,1858.16 L677.44,1858.41 L676.9,1858.66 L676.35,1858.92 L675.79,1859.19 L675.22,1859.45 L674.63,1859.72 L674.02,1860 L673.41,1860.28 L672.78,1860.56 L672.14,1860.85 L671.49,1861.14 L670.82,1861.43 L670.14,1861.73 L669.45,1862.03 L668.74,1862.34 L668.02,1862.65 L667.29,1862.96 L666.55,1863.28 L665.79,1863.6 L665.02,1863.93 L664.24,1864.26 L663.44,1864.59 L662.64,1864.93 L661.82,1865.27 L660.99,1865.61 L660.14,1865.96 L659.29,1866.32 L658.42,1866.67 L657.54,1867.03 L656.65,1867.4 L655.74,1867.76 L654.82,1868.14 L653.9,1868.51 L652.96,1868.89 L652,1869.27 L651.04,1869.66 L650.06,1870.05 L649.08,1870.44 L648.08,1870.84 L647.07,1871.24 L646.05,1871.65 L645.01,1872.06 L643.97,1872.47 L642.92,1872.89 L641.85,1873.31 L640.77,1873.73 L639.68,1874.16 L638.58,1874.59 L637.47,1875.02 L636.35,1875.46 L635.22,1875.9 L634.08,1876.35 L632.92,1876.8 L631.76,1877.25 L630.59,1877.7 L629.4,1878.16 L628.21,1878.63 L627,1879.09 L625.79,1879.56 L624.56,1880.04 L623.33,1880.51 L622.08,1881 L620.83,1881.48 L619.57,1881.97 L618.29,1882.46 L617.01,1882.95 L615.72,1883.45 L614.41,1883.95 L613.1,1884.46 L611.78,1884.96 L610.45,1885.47 L609.11,1885.99 L607.77,1886.51 L606.41,1887.03 L605.04,1887.55 L603.67,1888.08 L602.29,1888.61 L600.9,1889.15 L599.5,1889.69 L598.09,1890.23 L596.67,1890.77 L595.25,1891.32 L593.82,1891.87 L592.38,1892.42 L590.93,1892.98 L589.48,1893.54 L588.01,1894.1 L586.54,1894.67 L585.06,1895.24 L583.58,1895.81 L582.09,1896.39 L580.59,1896.97 L579.08,1897.55 L577.57,1898.13 L576.05,1898.72 L574.52,1899.31 L572.99,1899.91 L571.45,1900.5 L569.9,1901.1 L568.35,1901.7 L566.79,1902.31 L565.22,1902.92 L563.65,1903.53 L562.08,1904.14 L560.49,1904.76 L558.91,1905.38 L557.31,1906 L555.71,1906.63 L554.11,1907.26 L552.5,1907.89 L550.88,1908.52 L549.26,1909.16 L547.64,1909.8 L546.01,1910.44 L544.37,1911.08 L542.73,1911.73 L541.09,1912.38 L539.44,1913.03 L537.79,1913.69 L536.13,1914.34 L534.47,1915 L532.81,1915.67 L531.14,1916.33 L529.47,1917 L527.79,1917.67 L526.12,1918.34 L524.43,1919.01 L522.75,1919.69 L521.06,1920.37 L519.37,1921.05 L517.67,1921.73 L515.97,1922.42 L514.27,1923.11 L512.57,1923.8 L510.87,1924.49 L509.16,1925.19 L507.45,1925.89 L505.73,1926.59 L504.02,1927.29 L502.3,1927.99 L500.59,1928.7 L498.87,1929.4 L497.14,1930.11 L495.42,1930.83 L493.7,1931.54 L491.97,1932.26 L490.24,1932.97 L488.52,1933.69 L486.79,1934.42 L485.06,1935.14 L483.33,1935.86 L481.59,1936.59 L479.86,1937.32 L478.13,1938.05 L476.4,1938.78 L474.66,1939.52 L472.93,1940.25 L471.2,1940.99 L469.46,1941.73 L467.73,1942.47 L466,1943.22 L464.27,1943.96 L462.54,1944.71 L460.8,1945.45 L459.07,1946.2 L457.34,1946.95 L455.62,1947.7 L453.89,1948.46 L452.16,1949.21 L450.44,1949.97 L448.71,1950.73 L446.99,1951.48 L445.27,1952.24 L443.55,1953.01 L441.83,1953.77 L440.11,1954.53 L438.4,1955.3 L436.69,1956.06 L434.98,1956.83 L433.27,1957.6 L431.56,1958.37 L429.86,1959.14 L428.16,1959.91 L426.46,1960.68 L424.76,1961.46 L423.07,1962.23 L421.38,1963.01 L419.69,1963.78 L418.01,1964.56 L416.32,1965.34 L414.65,1966.12 L412.97,1966.9 L411.3,1967.68 L409.63,1968.46 L407.96,1969.24 L406.3,1970.02 L404.64,1970.81 L402.99,1971.59 L401.34,1972.38 L399.69,1973.16 L398.05,1973.95 L396.41,1974.73 L394.77,1975.52 L393.14,1976.31 L391.52,1977.09 L389.89,1977.88 L388.28,1978.67 L386.66,1979.46 L385.05,1980.25 L383.45,1981.04 L381.85,1981.83 L380.25,1982.62 L378.66,1983.41 L377.08,1984.2 L375.5,1984.99 L373.92,1985.78 L372.35,1986.57 L370.78,1987.36 L369.22,1988.15 L367.67,1988.95 L366.12,1989.74 L364.57,1990.53 L363.03,1991.32 L361.5,1992.11 L359.97,1992.9 L358.45,1993.69 L356.93,1994.48 L355.42,1995.28 L353.91,1996.07 L352.41,1996.86 L350.91,1997.65 L349.43,1998.44 L347.94,1999.23 L346.46,2000.02 L344.99,2000.8 L343.53,2001.59 L342.07,2002.38 L340.61,2003.17 L339.17,2003.96 L337.73,2004.74 L336.29,2005.53 L334.86,2006.32 L333.44,2007.1 L332.02,2007.89 L330.61,2008.67 L329.21,2009.45 L327.81,2010.24 L326.42,2011.02 L325.04,2011.8 L323.66,2012.58 L322.29,2013.36 L320.92,2014.14 L319.56,2014.92 L318.21,2015.7 L316.87,2016.47 L315.53,2017.25 L314.19,2018.02 L312.87,2018.8 L311.55,2019.57 L310.24,2020.34 L308.93,2021.12 L307.63,2021.89 L306.34,2022.66 L305.06,2023.43 L303.78,2024.19 L302.51,2024.96 L301.24,2025.72 L299.98,2026.49 L298.73,2027.25 L297.49,2028.01 L296.25,2028.77 L295.02,2029.53 L293.8,2030.29 L292.58,2031.05 L291.37,2031.8 L290.17,2032.56 L288.97,2033.31 L287.78,2034.06 L286.6,2034.81 L285.42,2035.56 L284.26,2036.31 L283.09,2037.06 L281.94,2037.8 L280.79,2038.55 L279.65,2039.29 L278.52,2040.03 L277.39,2040.77 L276.27,2041.5 L275.16,2042.24 L274.05,2042.97 L272.95,2043.71 L271.86,2044.44 L270.77,2045.17 L269.69,2045.9 L268.62,2046.62 L267.56,2047.35 L266.5,2048.07 L265.45,2048.79 L264.4,2049.51 L263.36,2050.23 L262.33,2050.95 L261.31,2051.66 L260.29,2052.37 L259.28,2053.08 L258.28,2053.79 L257.28,2054.5 L256.29,2055.21 L255.3,2055.91 L254.33,2056.61 L253.36,2057.31 L252.39,2058.01 L251.44,2058.71 L250.48,2059.4 L249.54,2060.09 L248.6,2060.78 L247.67,2061.47 L246.75,2062.16 L245.83,2062.84 L244.92,2063.52 L244.01,2064.2 L243.12,2064.88 L242.22,2065.56 L241.34,2066.23 L240.46,2066.91 L239.59,2067.58 L238.72,2068.24 L237.86,2068.91 L237.01,2069.57 L236.16,2070.24 L235.32,2070.9 L234.49,2071.55Z" fill="none" stroke="#4d45c6" stroke-width="1.8" stroke-dasharray="2.2 3.8"/><g fill="none" stroke="#3030d8" stroke-width="1.5"><path d="M145.8,2163.5 H153 M149.4,2159.9 V2167.1"/><path d="M178.9,2190 H186.1 M182.5,2186.4 V2193.6"/><path d="M649.8,1867.4 H657 M653.4,1863.8 V1871"/><path d="M227.7,2056 H240.1 M233.9,2049.8 V2062.2"/><path d="M317.4,1987.1000000000001 V1993.7" stroke="#7a70d8"/></g><g fill="none" stroke="#262626" stroke-width="1.5"><circle cx="212.4" cy="1495.35" r="2.25"/><circle cx="702.97" cy="1542.78" r="2.25"/><circle cx="705.95" cy="1609.01" r="2.25"/><circle cx="479.35" cy="1770.8" r="2.25"/><circle cx="931.36" cy="1713.53" r="2.25"/><circle cx="222.34" cy="1886.85" r="2.25"/><circle cx="205.44" cy="1973.17" r="2.25"/><circle cx="231.48" cy="2012.55" r="2.25"/><circle cx="367.05" cy="1708.06" r="4.7"/></g></g>
<rect x="94" y="1438" width="1006.6" height="827" fill="none" stroke="#4e4e4e" stroke-width="1.9"/>
<path d="M131.3,2265 V2277 M94,2234.4 H82 M317.71,2265 V2277 M94,2081.26 H82 M504.12,2265 V2277 M94,1928.12 H82 M690.53,2265 V2277 M94,1774.98 H82 M876.94,2265 V2277 M94,1621.84 H82 M1063.35,2265 V2277 M94,1468.7 H82" stroke="#4e4e4e" stroke-width="1.9" fill="none"/>
<g font-size="19" fill="#000"><text transform="translate(131.3,2306.3) scale(1,1.05)" text-anchor="middle">0.0</text><text transform="translate(66.5,2234.4) rotate(-90) scale(1,1.05)" text-anchor="middle">0.0</text><text transform="translate(317.71,2306.3) scale(1,1.05)" text-anchor="middle">0.1</text><text transform="translate(66.5,2081.26) rotate(-90) scale(1,1.05)" text-anchor="middle">0.2</text><text transform="translate(504.12,2306.3) scale(1,1.05)" text-anchor="middle">0.2</text><text transform="translate(66.5,1928.12) rotate(-90) scale(1,1.05)" text-anchor="middle">0.4</text><text transform="translate(690.53,2306.3) scale(1,1.05)" text-anchor="middle">0.3</text><text transform="translate(66.5,1774.98) rotate(-90) scale(1,1.05)" text-anchor="middle">0.6</text><text transform="translate(876.94,2306.3) scale(1,1.05)" text-anchor="middle">0.4</text><text transform="translate(66.5,1621.84) rotate(-90) scale(1,1.05)" text-anchor="middle">0.8</text><text transform="translate(1063.35,2306.3) scale(1,1.05)" text-anchor="middle">0.5</text><text transform="translate(66.5,1468.7) rotate(-90) scale(1,1.05)" text-anchor="middle">1.0</text><text transform="translate(597.3,2351.2) scale(1,1.05)" text-anchor="middle">False Positive Rate</text><text transform="translate(21.4,1852.3) rotate(-90) scale(1,1.05)" text-anchor="middle" font-size="19.5">Sensitivity</text></g>
<rect x="816" y="2126.6" width="284.4" height="138.1" fill="#fff" stroke="#4e4e4e" stroke-width="1.9"/>
<path d="M827.6,2172.2 H905.6" stroke="#555" stroke-width="1.9"/>
<circle cx="866.3" cy="2172.2" r="4.4" fill="none" stroke="#2d2d2d" stroke-width="1.4"/>
<path d="M827.6,2218.6 H905.6" stroke="#444" stroke-width="1.7" stroke-dasharray="2 4.2"/>
<g fill="none" stroke="#2d2d2d" stroke-width="1.3"><path d="M860.1,2218.6 H872.5 M866.3,2212.4 V2224.8"/></g>
<g font-size="19.1" fill="#000"><text transform="translate(944.2,2179.3) scale(1,1.05)">AI</text><text transform="translate(944.2,2225.7) scale(1,1.05)">Cornell</text></g>
</g>
</svg></body></html>
